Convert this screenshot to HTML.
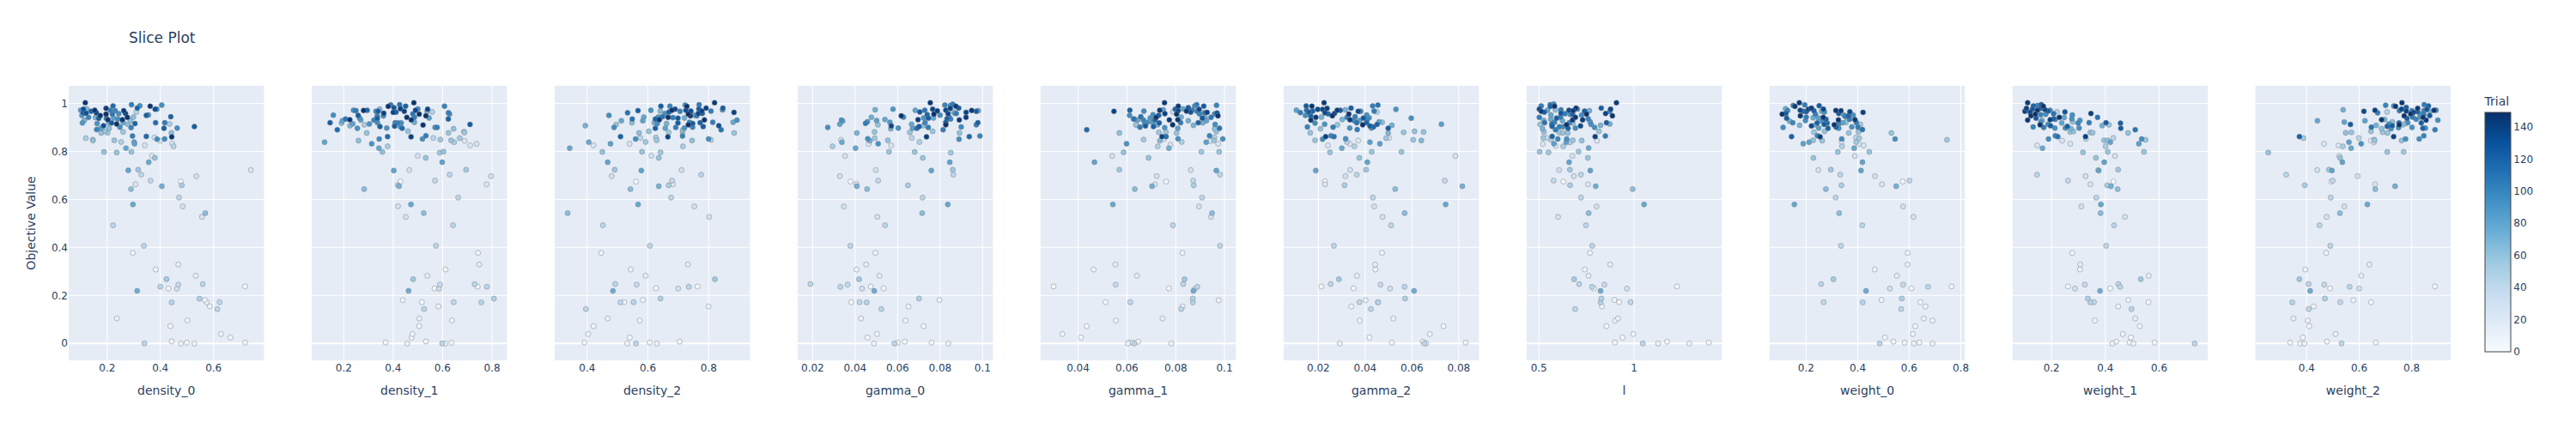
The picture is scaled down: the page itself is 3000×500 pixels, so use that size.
<!DOCTYPE html><html><head><meta charset="utf-8"><title>Slice Plot</title><style>html,body{margin:0;padding:0;background:#fff;width:3000px;height:500px;overflow:hidden}svg{display:block}text{font-family:"DejaVu Sans","Liberation Sans",sans-serif;fill:#2a3f5f}.t{font-size:12px}.a{font-size:14px}.g{stroke:#fff;stroke-width:1}.z{stroke:#fff;stroke-width:2}circle{stroke:#808080;stroke-width:0.5}</style></head><body>
<svg width="3000" height="500" viewBox="0 0 3000 500">
<rect width="3000" height="500" fill="#fff"/>
<text x="150" y="50" style="font-size:17px">Slice Plot</text>
<g>
<rect x="80.0" y="100" width="227.4" height="320" fill="#e5ecf6"/>
<line class="g" x1="124.9" x2="124.9" y1="100" y2="420"/>
<line class="g" x1="186.7" x2="186.7" y1="100" y2="420"/>
<line class="g" x1="248.7" x2="248.7" y1="100" y2="420"/>
<line class="z" x1="80.0" x2="307.4" y1="400.2" y2="400.2"/>
<line class="g" x1="80.0" x2="307.4" y1="344.3" y2="344.3"/>
<line class="g" x1="80.0" x2="307.4" y1="288.3" y2="288.3"/>
<line class="g" x1="80.0" x2="307.4" y1="232.4" y2="232.4"/>
<line class="g" x1="80.0" x2="307.4" y1="176.4" y2="176.4"/>
<line class="g" x1="80.0" x2="307.4" y1="120.5" y2="120.5"/>
<clipPath id="c0"><rect x="80.0" y="100" width="227.4" height="320"/></clipPath>
<g clip-path="url(#c0)">
<circle cx="210.5" cy="211.5" r="3" fill="rgb(240,247,253)"/>
<circle cx="196.2" cy="336.2" r="3" fill="rgb(240,247,253)"/>
<circle cx="285.5" cy="333.8" r="3" fill="rgb(240,247,253)"/>
<circle cx="240.7" cy="352.2" r="3" fill="rgb(240,247,253)"/>
<circle cx="198.4" cy="380.0" r="3" fill="rgb(240,247,253)"/>
<circle cx="268.3" cy="393.3" r="3" fill="rgb(240,247,253)"/>
<circle cx="200.0" cy="397.9" r="3" fill="rgb(240,247,253)"/>
<circle cx="217.6" cy="399.4" r="3" fill="rgb(240,247,253)"/>
<circle cx="285.5" cy="399.4" r="3" fill="rgb(240,247,253)"/>
<circle cx="154.6" cy="294.7" r="3" fill="rgb(236,244,252)"/>
<circle cx="181.4" cy="314.1" r="3" fill="rgb(236,244,252)"/>
<circle cx="238.5" cy="349.6" r="3" fill="rgb(236,244,252)"/>
<circle cx="244.3" cy="357.1" r="3" fill="rgb(236,244,252)"/>
<circle cx="218.2" cy="373.5" r="3" fill="rgb(236,244,252)"/>
<circle cx="257.3" cy="389.3" r="3" fill="rgb(236,244,252)"/>
<circle cx="210.6" cy="400.3" r="3" fill="rgb(236,244,252)"/>
<circle cx="226.4" cy="400.3" r="3" fill="rgb(236,244,252)"/>
<circle cx="136.1" cy="371.1" r="3" fill="rgb(231,241,250)"/>
<circle cx="207.7" cy="308.3" r="3" fill="rgb(227,238,249)"/>
<circle cx="227.9" cy="321.4" r="3" fill="rgb(227,238,249)"/>
<circle cx="177.0" cy="181.6" r="3" fill="rgb(220,234,246)"/>
<circle cx="186.8" cy="164.1" r="3" fill="rgb(214,230,244)"/>
<circle cx="200.5" cy="167.3" r="3" fill="rgb(214,230,244)"/>
<circle cx="157.8" cy="214.8" r="3" fill="rgb(214,230,244)"/>
<circle cx="292.2" cy="198.2" r="3" fill="rgb(214,230,244)"/>
<circle cx="168.6" cy="169.4" r="3" fill="rgb(210,227,243)"/>
<circle cx="235.2" cy="252.8" r="3" fill="rgb(210,227,243)"/>
<circle cx="179.8" cy="160.3" r="3" fill="rgb(207,225,242)"/>
<circle cx="228.6" cy="205.3" r="3" fill="rgb(207,225,242)"/>
<circle cx="212.8" cy="240.6" r="3" fill="rgb(207,225,242)"/>
<circle cx="206.1" cy="336.4" r="3" fill="rgb(207,225,242)"/>
<circle cx="207.7" cy="331.7" r="3" fill="rgb(195,218,238)"/>
<circle cx="175.3" cy="210.5" r="3" fill="rgb(191,216,237)"/>
<circle cx="255.7" cy="352.2" r="3" fill="rgb(191,216,237)"/>
<circle cx="164.5" cy="203.6" r="3" fill="rgb(186,214,235)"/>
<circle cx="208.5" cy="230.3" r="3" fill="rgb(186,214,235)"/>
<circle cx="131.7" cy="262.6" r="3" fill="rgb(186,214,235)"/>
<circle cx="167.5" cy="286.5" r="3" fill="rgb(186,214,235)"/>
<circle cx="186.7" cy="334.2" r="3" fill="rgb(186,214,235)"/>
<circle cx="236.1" cy="331.2" r="3" fill="rgb(186,214,235)"/>
<circle cx="253.1" cy="360.3" r="3" fill="rgb(186,214,235)"/>
<circle cx="168.2" cy="400.3" r="3" fill="rgb(186,214,235)"/>
<circle cx="202.1" cy="170.6" r="3" fill="rgb(180,212,233)"/>
<circle cx="199.9" cy="352.4" r="3" fill="rgb(180,212,233)"/>
<circle cx="158.8" cy="130.7" r="3" fill="rgb(177,210,232)"/>
<circle cx="141.1" cy="165.5" r="3" fill="rgb(174,209,230)"/>
<circle cx="232.4" cy="348.1" r="3" fill="rgb(174,209,230)"/>
<circle cx="197.5" cy="144.5" r="3" fill="rgb(168,206,229)"/>
<circle cx="99.9" cy="161.0" r="3" fill="rgb(168,206,229)"/>
<circle cx="211.7" cy="215.9" r="3" fill="rgb(168,206,229)"/>
<circle cx="108.0" cy="162.7" r="3" fill="rgb(160,203,226)"/>
<circle cx="193.9" cy="325.4" r="3" fill="rgb(160,203,226)"/>
<circle cx="125.4" cy="154.8" r="3" fill="rgb(156,201,225)"/>
<circle cx="143.4" cy="153.8" r="3" fill="rgb(156,201,225)"/>
<circle cx="160.9" cy="197.8" r="3" fill="rgb(156,201,225)"/>
<circle cx="122.0" cy="152.9" r="3" fill="rgb(149,197,223)"/>
<circle cx="133.1" cy="163.6" r="3" fill="rgb(149,197,223)"/>
<circle cx="135.9" cy="177.8" r="3" fill="rgb(149,197,223)"/>
<circle cx="153.0" cy="176.9" r="3" fill="rgb(149,197,223)"/>
<circle cx="180.3" cy="184.0" r="3" fill="rgb(149,197,223)"/>
<circle cx="117.8" cy="155.0" r="3" fill="rgb(144,194,222)"/>
<circle cx="121.2" cy="177.1" r="3" fill="rgb(144,194,222)"/>
<circle cx="155.3" cy="136.5" r="3" fill="rgb(140,192,221)"/>
<circle cx="149.0" cy="144.9" r="3" fill="rgb(140,192,221)"/>
<circle cx="127.1" cy="149.6" r="3" fill="rgb(140,192,221)"/>
<circle cx="108.4" cy="163.8" r="3" fill="rgb(140,192,221)"/>
<circle cx="199.6" cy="154.8" r="3" fill="rgb(140,192,221)"/>
<circle cx="151.8" cy="140.7" r="3" fill="rgb(136,190,220)"/>
<circle cx="152.5" cy="220.4" r="3" fill="rgb(136,190,220)"/>
<circle cx="239.1" cy="248.4" r="3" fill="rgb(136,190,220)"/>
<circle cx="101.0" cy="126.9" r="3" fill="rgb(127,185,218)"/>
<circle cx="126.6" cy="143.5" r="3" fill="rgb(127,185,218)"/>
<circle cx="98.2" cy="140.3" r="3" fill="rgb(111,176,215)"/>
<circle cx="111.2" cy="137.0" r="3" fill="rgb(111,176,215)"/>
<circle cx="188.5" cy="217.1" r="3" fill="rgb(111,176,215)"/>
<circle cx="159.8" cy="339.0" r="3" fill="rgb(106,173,214)"/>
<circle cx="143.4" cy="143.1" r="3" fill="rgb(99,169,211)"/>
<circle cx="146.7" cy="172.7" r="3" fill="rgb(99,169,211)"/>
<circle cx="173.2" cy="189.1" r="3" fill="rgb(99,169,211)"/>
<circle cx="154.8" cy="238.3" r="3" fill="rgb(99,169,211)"/>
<circle cx="156.2" cy="165.5" r="3" fill="rgb(93,164,208)"/>
<circle cx="149.4" cy="198.6" r="3" fill="rgb(93,164,208)"/>
<circle cx="132.2" cy="137.5" r="3" fill="rgb(88,161,207)"/>
<circle cx="117.3" cy="149.6" r="3" fill="rgb(88,161,207)"/>
<circle cx="156.7" cy="167.6" r="3" fill="rgb(88,161,207)"/>
<circle cx="94.0" cy="128.6" r="3" fill="rgb(76,153,202)"/>
<circle cx="95.4" cy="134.4" r="3" fill="rgb(76,153,202)"/>
<circle cx="96.0" cy="143.3" r="3" fill="rgb(76,153,202)"/>
<circle cx="113.1" cy="144.0" r="3" fill="rgb(69,148,199)"/>
<circle cx="138.3" cy="132.6" r="3" fill="rgb(64,144,197)"/>
<circle cx="137.1" cy="138.7" r="3" fill="rgb(64,144,197)"/>
<circle cx="162.8" cy="123.3" r="3" fill="rgb(64,144,197)"/>
<circle cx="182.6" cy="127.2" r="3" fill="rgb(64,144,197)"/>
<circle cx="188.4" cy="122.5" r="3" fill="rgb(64,144,197)"/>
<circle cx="172.8" cy="134.0" r="3" fill="rgb(64,144,197)"/>
<circle cx="139.7" cy="148.2" r="3" fill="rgb(64,144,197)"/>
<circle cx="183.0" cy="162.2" r="3" fill="rgb(64,144,197)"/>
<circle cx="206.3" cy="149.3" r="3" fill="rgb(64,144,197)"/>
<circle cx="191.7" cy="161.9" r="3" fill="rgb(60,140,195)"/>
<circle cx="103.1" cy="136.8" r="3" fill="rgb(53,133,191)"/>
<circle cx="134.1" cy="129.1" r="3" fill="rgb(53,133,191)"/>
<circle cx="112.6" cy="151.0" r="3" fill="rgb(53,133,191)"/>
<circle cx="152.7" cy="148.7" r="3" fill="rgb(53,133,191)"/>
<circle cx="128.5" cy="128.6" r="3" fill="rgb(46,126,188)"/>
<circle cx="153.2" cy="122.1" r="3" fill="rgb(46,126,188)"/>
<circle cx="191.9" cy="143.1" r="3" fill="rgb(46,126,188)"/>
<circle cx="154.3" cy="158.5" r="3" fill="rgb(46,126,188)"/>
<circle cx="123.8" cy="137.9" r="3" fill="rgb(41,121,185)"/>
<circle cx="130.8" cy="133.0" r="3" fill="rgb(41,121,185)"/>
<circle cx="131.6" cy="123.5" r="3" fill="rgb(29,107,177)"/>
<circle cx="181.2" cy="143.1" r="3" fill="rgb(29,107,177)"/>
<circle cx="170.4" cy="158.9" r="3" fill="rgb(29,107,177)"/>
<circle cx="106.1" cy="129.7" r="3" fill="rgb(22,99,170)"/>
<circle cx="159.9" cy="126.0" r="3" fill="rgb(22,99,170)"/>
<circle cx="157.2" cy="144.0" r="3" fill="rgb(22,99,170)"/>
<circle cx="198.9" cy="136.1" r="3" fill="rgb(22,99,170)"/>
<circle cx="191.0" cy="149.6" r="3" fill="rgb(22,99,170)"/>
<circle cx="96.8" cy="131.4" r="3" fill="rgb(18,94,166)"/>
<circle cx="115.0" cy="137.9" r="3" fill="rgb(18,94,166)"/>
<circle cx="170.4" cy="134.5" r="3" fill="rgb(18,94,166)"/>
<circle cx="226.4" cy="147.6" r="3" fill="rgb(18,94,166)"/>
<circle cx="129.9" cy="143.3" r="3" fill="rgb(14,88,162)"/>
<circle cx="97.1" cy="127.2" r="3" fill="rgb(8,80,154)"/>
<circle cx="100.3" cy="131.9" r="3" fill="rgb(8,80,154)"/>
<circle cx="180.7" cy="127.2" r="3" fill="rgb(8,80,154)"/>
<circle cx="120.6" cy="146.6" r="3" fill="rgb(8,80,154)"/>
<circle cx="112.2" cy="131.4" r="3" fill="rgb(8,67,136)"/>
<circle cx="146.2" cy="132.3" r="3" fill="rgb(8,67,136)"/>
<circle cx="123.5" cy="126.3" r="3" fill="rgb(8,59,123)"/>
<circle cx="144.1" cy="129.1" r="3" fill="rgb(8,59,123)"/>
<circle cx="142.5" cy="139.6" r="3" fill="rgb(8,55,118)"/>
<circle cx="200.0" cy="159.6" r="3" fill="rgb(8,55,118)"/>
<circle cx="99.3" cy="119.8" r="3" fill="rgb(8,53,115)"/>
<circle cx="110.3" cy="128.6" r="3" fill="rgb(8,53,115)"/>
<circle cx="125.7" cy="139.6" r="3" fill="rgb(8,53,115)"/>
<circle cx="148.3" cy="136.8" r="3" fill="rgb(8,53,115)"/>
<circle cx="174.9" cy="123.8" r="3" fill="rgb(8,52,113)"/>
<circle cx="116.8" cy="134.7" r="3" fill="rgb(8,50,111)"/>
<circle cx="123.5" cy="133.0" r="3" fill="rgb(8,49,108)"/>
<circle cx="135.9" cy="144.5" r="3" fill="rgb(8,49,108)"/>
</g>
<text class="t" text-anchor="middle" x="124.9" y="432.6">0.2</text>
<text class="t" text-anchor="middle" x="186.7" y="432.6">0.4</text>
<text class="t" text-anchor="middle" x="248.7" y="432.6">0.6</text>
<text class="a" text-anchor="middle" x="193.7" y="460">density_0</text>
</g>
<g>
<rect x="363.0" y="100" width="227.4" height="320" fill="#e5ecf6"/>
<line class="g" x1="400.4" x2="400.4" y1="100" y2="420"/>
<line class="g" x1="457.9" x2="457.9" y1="100" y2="420"/>
<line class="g" x1="515.4" x2="515.4" y1="100" y2="420"/>
<line class="g" x1="573.0" x2="573.0" y1="100" y2="420"/>
<line class="z" x1="363.0" x2="590.4" y1="400.2" y2="400.2"/>
<line class="g" x1="363.0" x2="590.4" y1="344.3" y2="344.3"/>
<line class="g" x1="363.0" x2="590.4" y1="288.3" y2="288.3"/>
<line class="g" x1="363.0" x2="590.4" y1="232.4" y2="232.4"/>
<line class="g" x1="363.0" x2="590.4" y1="176.4" y2="176.4"/>
<line class="g" x1="363.0" x2="590.4" y1="120.5" y2="120.5"/>
<clipPath id="c1"><rect x="363.0" y="100" width="227.4" height="320"/></clipPath>
<g clip-path="url(#c1)">
<circle cx="466.3" cy="211.6" r="3" fill="rgb(240,247,253)"/>
<circle cx="506.0" cy="336.2" r="3" fill="rgb(240,247,253)"/>
<circle cx="556.2" cy="334.0" r="3" fill="rgb(240,247,253)"/>
<circle cx="491.3" cy="352.2" r="3" fill="rgb(240,247,253)"/>
<circle cx="488.1" cy="380.0" r="3" fill="rgb(240,247,253)"/>
<circle cx="479.2" cy="393.3" r="3" fill="rgb(240,247,253)"/>
<circle cx="449.0" cy="399.2" r="3" fill="rgb(240,247,253)"/>
<circle cx="496.0" cy="398.0" r="3" fill="rgb(240,247,253)"/>
<circle cx="525.8" cy="399.6" r="3" fill="rgb(240,247,253)"/>
<circle cx="556.7" cy="294.7" r="3" fill="rgb(236,244,252)"/>
<circle cx="518.9" cy="314.1" r="3" fill="rgb(236,244,252)"/>
<circle cx="469.1" cy="349.8" r="3" fill="rgb(236,244,252)"/>
<circle cx="510.7" cy="357.1" r="3" fill="rgb(236,244,252)"/>
<circle cx="526.2" cy="373.5" r="3" fill="rgb(236,244,252)"/>
<circle cx="480.3" cy="389.3" r="3" fill="rgb(236,244,252)"/>
<circle cx="474.2" cy="400.3" r="3" fill="rgb(236,244,252)"/>
<circle cx="518.5" cy="400.3" r="3" fill="rgb(236,244,252)"/>
<circle cx="488.3" cy="371.1" r="3" fill="rgb(231,241,250)"/>
<circle cx="558.0" cy="308.3" r="3" fill="rgb(227,238,249)"/>
<circle cx="497.8" cy="321.4" r="3" fill="rgb(227,238,249)"/>
<circle cx="541.2" cy="164.1" r="3" fill="rgb(214,230,244)"/>
<circle cx="547.5" cy="169.5" r="3" fill="rgb(214,230,244)"/>
<circle cx="566.6" cy="214.8" r="3" fill="rgb(214,230,244)"/>
<circle cx="555.0" cy="167.6" r="3" fill="rgb(210,227,243)"/>
<circle cx="486.6" cy="181.6" r="3" fill="rgb(210,227,243)"/>
<circle cx="472.6" cy="252.8" r="3" fill="rgb(210,227,243)"/>
<circle cx="476.6" cy="198.2" r="3" fill="rgb(207,225,242)"/>
<circle cx="571.8" cy="205.3" r="3" fill="rgb(207,225,242)"/>
<circle cx="463.5" cy="240.4" r="3" fill="rgb(207,225,242)"/>
<circle cx="511.4" cy="336.4" r="3" fill="rgb(207,225,242)"/>
<circle cx="512.4" cy="331.7" r="3" fill="rgb(195,218,238)"/>
<circle cx="506.6" cy="210.5" r="3" fill="rgb(191,216,237)"/>
<circle cx="528.4" cy="352.2" r="3" fill="rgb(191,216,237)"/>
<circle cx="504.6" cy="160.8" r="3" fill="rgb(186,214,235)"/>
<circle cx="523.7" cy="203.6" r="3" fill="rgb(186,214,235)"/>
<circle cx="533.6" cy="230.3" r="3" fill="rgb(186,214,235)"/>
<circle cx="527.6" cy="262.6" r="3" fill="rgb(186,214,235)"/>
<circle cx="507.7" cy="286.5" r="3" fill="rgb(186,214,235)"/>
<circle cx="552.8" cy="331.2" r="3" fill="rgb(186,214,235)"/>
<circle cx="567.0" cy="334.2" r="3" fill="rgb(186,214,235)"/>
<circle cx="493.9" cy="360.3" r="3" fill="rgb(186,214,235)"/>
<circle cx="515.0" cy="400.3" r="3" fill="rgb(186,214,235)"/>
<circle cx="560.5" cy="352.4" r="3" fill="rgb(180,212,233)"/>
<circle cx="503.4" cy="130.5" r="3" fill="rgb(177,210,232)"/>
<circle cx="575.2" cy="348.1" r="3" fill="rgb(174,209,230)"/>
<circle cx="424.3" cy="145.4" r="3" fill="rgb(168,206,229)"/>
<circle cx="451.4" cy="170.6" r="3" fill="rgb(168,206,229)"/>
<circle cx="528.9" cy="165.7" r="3" fill="rgb(168,206,229)"/>
<circle cx="463.5" cy="215.7" r="3" fill="rgb(168,206,229)"/>
<circle cx="540.3" cy="153.4" r="3" fill="rgb(160,203,226)"/>
<circle cx="535.4" cy="161.0" r="3" fill="rgb(160,203,226)"/>
<circle cx="542.8" cy="197.8" r="3" fill="rgb(160,203,226)"/>
<circle cx="481.2" cy="325.4" r="3" fill="rgb(160,203,226)"/>
<circle cx="512.8" cy="162.7" r="3" fill="rgb(156,201,225)"/>
<circle cx="540.8" cy="154.5" r="3" fill="rgb(156,201,225)"/>
<circle cx="512.1" cy="178.1" r="3" fill="rgb(156,201,225)"/>
<circle cx="475.2" cy="152.9" r="3" fill="rgb(149,197,223)"/>
<circle cx="522.3" cy="154.8" r="3" fill="rgb(149,197,223)"/>
<circle cx="525.3" cy="163.6" r="3" fill="rgb(149,197,223)"/>
<circle cx="516.5" cy="176.7" r="3" fill="rgb(149,197,223)"/>
<circle cx="495.8" cy="184.0" r="3" fill="rgb(149,197,223)"/>
<circle cx="427.1" cy="154.9" r="3" fill="rgb(144,194,222)"/>
<circle cx="445.3" cy="177.1" r="3" fill="rgb(144,194,222)"/>
<circle cx="417.5" cy="163.9" r="3" fill="rgb(140,192,221)"/>
<circle cx="528.3" cy="150.1" r="3" fill="rgb(140,192,221)"/>
<circle cx="424.1" cy="220.4" r="3" fill="rgb(136,190,220)"/>
<circle cx="493.5" cy="248.4" r="3" fill="rgb(136,190,220)"/>
<circle cx="397.8" cy="143.5" r="3" fill="rgb(127,185,218)"/>
<circle cx="442.1" cy="127.2" r="3" fill="rgb(127,185,218)"/>
<circle cx="407.6" cy="146.6" r="3" fill="rgb(127,185,218)"/>
<circle cx="497.4" cy="130.0" r="3" fill="rgb(117,180,216)"/>
<circle cx="464.8" cy="217.1" r="3" fill="rgb(117,180,216)"/>
<circle cx="482.6" cy="142.6" r="3" fill="rgb(106,173,214)"/>
<circle cx="475.8" cy="339.0" r="3" fill="rgb(106,173,214)"/>
<circle cx="441.3" cy="172.7" r="3" fill="rgb(99,169,211)"/>
<circle cx="478.6" cy="238.3" r="3" fill="rgb(99,169,211)"/>
<circle cx="398.7" cy="140.7" r="3" fill="rgb(93,164,208)"/>
<circle cx="499.7" cy="137.5" r="3" fill="rgb(93,164,208)"/>
<circle cx="378.0" cy="165.7" r="3" fill="rgb(93,164,208)"/>
<circle cx="515.0" cy="189.1" r="3" fill="rgb(93,164,208)"/>
<circle cx="458.6" cy="198.8" r="3" fill="rgb(93,164,208)"/>
<circle cx="420.1" cy="139.8" r="3" fill="rgb(88,161,207)"/>
<circle cx="410.8" cy="144.3" r="3" fill="rgb(88,161,207)"/>
<circle cx="418.7" cy="137.5" r="3" fill="rgb(69,148,199)"/>
<circle cx="430.1" cy="144.5" r="3" fill="rgb(69,148,199)"/>
<circle cx="416.2" cy="149.6" r="3" fill="rgb(69,148,199)"/>
<circle cx="450.4" cy="149.3" r="3" fill="rgb(69,148,199)"/>
<circle cx="432.9" cy="167.6" r="3" fill="rgb(69,148,199)"/>
<circle cx="388.2" cy="134.2" r="3" fill="rgb(64,144,197)"/>
<circle cx="411.7" cy="128.4" r="3" fill="rgb(64,144,197)"/>
<circle cx="446.5" cy="135.1" r="3" fill="rgb(64,144,197)"/>
<circle cx="439.7" cy="143.1" r="3" fill="rgb(64,144,197)"/>
<circle cx="467.2" cy="143.3" r="3" fill="rgb(64,144,197)"/>
<circle cx="486.7" cy="126.9" r="3" fill="rgb(64,144,197)"/>
<circle cx="523.5" cy="133.1" r="3" fill="rgb(64,144,197)"/>
<circle cx="466.3" cy="147.8" r="3" fill="rgb(64,144,197)"/>
<circle cx="506.7" cy="148.5" r="3" fill="rgb(64,144,197)"/>
<circle cx="492.0" cy="162.0" r="3" fill="rgb(64,144,197)"/>
<circle cx="441.6" cy="162.0" r="3" fill="rgb(60,140,195)"/>
<circle cx="437.9" cy="129.7" r="3" fill="rgb(53,133,191)"/>
<circle cx="435.5" cy="140.0" r="3" fill="rgb(53,133,191)"/>
<circle cx="460.2" cy="143.1" r="3" fill="rgb(53,133,191)"/>
<circle cx="517.7" cy="123.8" r="3" fill="rgb(53,133,191)"/>
<circle cx="439.3" cy="135.3" r="3" fill="rgb(46,126,188)"/>
<circle cx="455.1" cy="122.3" r="3" fill="rgb(46,126,188)"/>
<circle cx="463.5" cy="143.3" r="3" fill="rgb(46,126,188)"/>
<circle cx="482.6" cy="136.8" r="3" fill="rgb(46,126,188)"/>
<circle cx="522.3" cy="131.4" r="3" fill="rgb(46,126,188)"/>
<circle cx="509.0" cy="148.5" r="3" fill="rgb(46,126,188)"/>
<circle cx="496.0" cy="158.2" r="3" fill="rgb(46,126,188)"/>
<circle cx="414.5" cy="129.1" r="3" fill="rgb(41,121,185)"/>
<circle cx="402.4" cy="138.7" r="3" fill="rgb(41,121,185)"/>
<circle cx="465.4" cy="122.1" r="3" fill="rgb(41,121,185)"/>
<circle cx="480.8" cy="132.8" r="3" fill="rgb(41,121,185)"/>
<circle cx="427.6" cy="128.6" r="3" fill="rgb(29,107,177)"/>
<circle cx="392.8" cy="151.2" r="3" fill="rgb(29,107,177)"/>
<circle cx="468.4" cy="149.6" r="3" fill="rgb(29,107,177)"/>
<circle cx="451.4" cy="159.2" r="3" fill="rgb(29,107,177)"/>
<circle cx="461.2" cy="130.7" r="3" fill="rgb(22,99,170)"/>
<circle cx="472.4" cy="123.8" r="3" fill="rgb(22,99,170)"/>
<circle cx="522.1" cy="138.7" r="3" fill="rgb(22,99,170)"/>
<circle cx="384.4" cy="143.1" r="3" fill="rgb(18,94,166)"/>
<circle cx="417.1" cy="134.4" r="3" fill="rgb(18,94,166)"/>
<circle cx="440.4" cy="129.7" r="3" fill="rgb(18,94,166)"/>
<circle cx="439.4" cy="137.9" r="3" fill="rgb(18,94,166)"/>
<circle cx="442.5" cy="147.6" r="3" fill="rgb(18,94,166)"/>
<circle cx="459.6" cy="147.0" r="3" fill="rgb(18,94,166)"/>
<circle cx="547.4" cy="145.1" r="3" fill="rgb(18,94,166)"/>
<circle cx="458.8" cy="125.6" r="3" fill="rgb(14,88,162)"/>
<circle cx="457.9" cy="130.9" r="3" fill="rgb(8,72,143)"/>
<circle cx="483.9" cy="128.6" r="3" fill="rgb(8,72,143)"/>
<circle cx="466.3" cy="126.7" r="3" fill="rgb(8,67,136)"/>
<circle cx="470.8" cy="129.7" r="3" fill="rgb(8,67,136)"/>
<circle cx="498.0" cy="127.2" r="3" fill="rgb(8,67,136)"/>
<circle cx="478.7" cy="159.4" r="3" fill="rgb(8,67,136)"/>
<circle cx="446.9" cy="131.9" r="3" fill="rgb(8,64,131)"/>
<circle cx="478.9" cy="139.8" r="3" fill="rgb(8,55,118)"/>
<circle cx="407.4" cy="139.6" r="3" fill="rgb(8,53,115)"/>
<circle cx="482.0" cy="119.8" r="3" fill="rgb(8,53,115)"/>
<circle cx="423.4" cy="128.8" r="3" fill="rgb(8,52,113)"/>
<circle cx="452.1" cy="123.9" r="3" fill="rgb(8,52,113)"/>
<circle cx="473.8" cy="136.8" r="3" fill="rgb(8,50,111)"/>
<circle cx="488.2" cy="133.1" r="3" fill="rgb(8,50,110)"/>
<circle cx="496.0" cy="135.0" r="3" fill="rgb(8,50,110)"/>
<circle cx="492.7" cy="145.7" r="3" fill="rgb(8,50,110)"/>
</g>
<text class="t" text-anchor="middle" x="400.4" y="432.6">0.2</text>
<text class="t" text-anchor="middle" x="457.9" y="432.6">0.4</text>
<text class="t" text-anchor="middle" x="515.4" y="432.6">0.6</text>
<text class="t" text-anchor="middle" x="573.0" y="432.6">0.8</text>
<text class="a" text-anchor="middle" x="476.7" y="460">density_1</text>
</g>
<g>
<rect x="645.9" y="100" width="227.4" height="320" fill="#e5ecf6"/>
<line class="g" x1="683.8" x2="683.8" y1="100" y2="420"/>
<line class="g" x1="754.5" x2="754.5" y1="100" y2="420"/>
<line class="g" x1="825.3" x2="825.3" y1="100" y2="420"/>
<line class="z" x1="645.9" x2="873.3" y1="400.2" y2="400.2"/>
<line class="g" x1="645.9" x2="873.3" y1="344.3" y2="344.3"/>
<line class="g" x1="645.9" x2="873.3" y1="288.3" y2="288.3"/>
<line class="g" x1="645.9" x2="873.3" y1="232.4" y2="232.4"/>
<line class="g" x1="645.9" x2="873.3" y1="176.4" y2="176.4"/>
<line class="g" x1="645.9" x2="873.3" y1="120.5" y2="120.5"/>
<clipPath id="c2"><rect x="645.9" y="100" width="227.4" height="320"/></clipPath>
<g clip-path="url(#c2)">
<circle cx="740.7" cy="211.6" r="3" fill="rgb(240,247,253)"/>
<circle cx="812.3" cy="333.9" r="3" fill="rgb(240,247,253)"/>
<circle cx="764.0" cy="336.1" r="3" fill="rgb(240,247,253)"/>
<circle cx="726.9" cy="352.2" r="3" fill="rgb(240,247,253)"/>
<circle cx="691.3" cy="380.1" r="3" fill="rgb(240,247,253)"/>
<circle cx="733.4" cy="393.4" r="3" fill="rgb(240,247,253)"/>
<circle cx="680.8" cy="399.2" r="3" fill="rgb(240,247,253)"/>
<circle cx="756.6" cy="399.3" r="3" fill="rgb(240,247,253)"/>
<circle cx="791.4" cy="398.2" r="3" fill="rgb(240,247,253)"/>
<circle cx="700.2" cy="294.7" r="3" fill="rgb(236,244,252)"/>
<circle cx="734.5" cy="314.1" r="3" fill="rgb(236,244,252)"/>
<circle cx="748.7" cy="349.7" r="3" fill="rgb(236,244,252)"/>
<circle cx="825.2" cy="357.2" r="3" fill="rgb(236,244,252)"/>
<circle cx="745.0" cy="373.6" r="3" fill="rgb(236,244,252)"/>
<circle cx="684.9" cy="389.3" r="3" fill="rgb(236,244,252)"/>
<circle cx="730.6" cy="400.3" r="3" fill="rgb(236,244,252)"/>
<circle cx="765.1" cy="400.3" r="3" fill="rgb(236,244,252)"/>
<circle cx="707.7" cy="371.2" r="3" fill="rgb(231,241,250)"/>
<circle cx="801.1" cy="308.3" r="3" fill="rgb(227,238,249)"/>
<circle cx="751.9" cy="321.4" r="3" fill="rgb(227,238,249)"/>
<circle cx="691.1" cy="169.4" r="3" fill="rgb(214,230,244)"/>
<circle cx="783.6" cy="214.8" r="3" fill="rgb(214,230,244)"/>
<circle cx="733.2" cy="167.6" r="3" fill="rgb(210,227,243)"/>
<circle cx="758.6" cy="181.6" r="3" fill="rgb(210,227,243)"/>
<circle cx="825.9" cy="252.8" r="3" fill="rgb(210,227,243)"/>
<circle cx="793.8" cy="198.2" r="3" fill="rgb(207,225,242)"/>
<circle cx="712.4" cy="205.3" r="3" fill="rgb(207,225,242)"/>
<circle cx="808.6" cy="240.6" r="3" fill="rgb(207,225,242)"/>
<circle cx="789.9" cy="336.3" r="3" fill="rgb(207,225,242)"/>
<circle cx="741.4" cy="331.7" r="3" fill="rgb(195,218,238)"/>
<circle cx="782.7" cy="210.5" r="3" fill="rgb(191,216,237)"/>
<circle cx="722.6" cy="352.4" r="3" fill="rgb(191,216,237)"/>
<circle cx="745.8" cy="160.8" r="3" fill="rgb(186,214,235)"/>
<circle cx="816.6" cy="203.6" r="3" fill="rgb(186,214,235)"/>
<circle cx="781.5" cy="230.3" r="3" fill="rgb(186,214,235)"/>
<circle cx="702.1" cy="262.6" r="3" fill="rgb(186,214,235)"/>
<circle cx="756.9" cy="286.5" r="3" fill="rgb(186,214,235)"/>
<circle cx="716.5" cy="331.1" r="3" fill="rgb(186,214,235)"/>
<circle cx="802.2" cy="334.3" r="3" fill="rgb(186,214,235)"/>
<circle cx="682.3" cy="360.2" r="3" fill="rgb(186,214,235)"/>
<circle cx="740.7" cy="400.3" r="3" fill="rgb(186,214,235)"/>
<circle cx="737.9" cy="352.2" r="3" fill="rgb(180,212,233)"/>
<circle cx="828.0" cy="163.0" r="3" fill="rgb(177,210,232)"/>
<circle cx="769.2" cy="347.9" r="3" fill="rgb(174,209,230)"/>
<circle cx="763.9" cy="160.3" r="3" fill="rgb(168,206,229)"/>
<circle cx="795.3" cy="170.6" r="3" fill="rgb(168,206,229)"/>
<circle cx="778.7" cy="215.9" r="3" fill="rgb(168,206,229)"/>
<circle cx="751.9" cy="165.5" r="3" fill="rgb(160,203,226)"/>
<circle cx="778.8" cy="154.3" r="3" fill="rgb(160,203,226)"/>
<circle cx="832.6" cy="325.4" r="3" fill="rgb(160,203,226)"/>
<circle cx="764.8" cy="163.6" r="3" fill="rgb(156,201,225)"/>
<circle cx="794.9" cy="153.8" r="3" fill="rgb(156,201,225)"/>
<circle cx="769.3" cy="177.6" r="3" fill="rgb(156,201,225)"/>
<circle cx="715.9" cy="197.8" r="3" fill="rgb(156,201,225)"/>
<circle cx="717.6" cy="145.1" r="3" fill="rgb(149,197,223)"/>
<circle cx="755.6" cy="153.1" r="3" fill="rgb(149,197,223)"/>
<circle cx="747.7" cy="176.9" r="3" fill="rgb(149,197,223)"/>
<circle cx="855.0" cy="154.9" r="3" fill="rgb(149,197,223)"/>
<circle cx="767.2" cy="184.0" r="3" fill="rgb(149,197,223)"/>
<circle cx="701.5" cy="177.1" r="3" fill="rgb(144,194,222)"/>
<circle cx="806.0" cy="163.8" r="3" fill="rgb(144,194,222)"/>
<circle cx="736.0" cy="143.1" r="3" fill="rgb(140,192,221)"/>
<circle cx="744.2" cy="154.9" r="3" fill="rgb(140,192,221)"/>
<circle cx="795.1" cy="151.5" r="3" fill="rgb(140,192,221)"/>
<circle cx="734.2" cy="220.4" r="3" fill="rgb(136,190,220)"/>
<circle cx="661.1" cy="248.4" r="3" fill="rgb(136,190,220)"/>
<circle cx="769.0" cy="129.4" r="3" fill="rgb(127,185,218)"/>
<circle cx="776.3" cy="144.0" r="3" fill="rgb(117,180,216)"/>
<circle cx="681.7" cy="146.4" r="3" fill="rgb(117,180,216)"/>
<circle cx="762.0" cy="143.1" r="3" fill="rgb(111,176,215)"/>
<circle cx="797.1" cy="137.5" r="3" fill="rgb(111,176,215)"/>
<circle cx="767.2" cy="217.1" r="3" fill="rgb(111,176,215)"/>
<circle cx="713.8" cy="339.1" r="3" fill="rgb(106,173,214)"/>
<circle cx="723.7" cy="140.7" r="3" fill="rgb(99,169,211)"/>
<circle cx="749.8" cy="136.5" r="3" fill="rgb(99,169,211)"/>
<circle cx="853.8" cy="142.4" r="3" fill="rgb(99,169,211)"/>
<circle cx="685.7" cy="165.7" r="3" fill="rgb(99,169,211)"/>
<circle cx="663.5" cy="172.7" r="3" fill="rgb(99,169,211)"/>
<circle cx="743.1" cy="238.3" r="3" fill="rgb(99,169,211)"/>
<circle cx="774.8" cy="149.4" r="3" fill="rgb(93,164,208)"/>
<circle cx="707.7" cy="189.1" r="3" fill="rgb(93,164,208)"/>
<circle cx="746.9" cy="198.8" r="3" fill="rgb(93,164,208)"/>
<circle cx="748.6" cy="140.7" r="3" fill="rgb(88,161,207)"/>
<circle cx="808.6" cy="134.2" r="3" fill="rgb(88,161,207)"/>
<circle cx="711.0" cy="167.6" r="3" fill="rgb(88,161,207)"/>
<circle cx="758.0" cy="128.6" r="3" fill="rgb(69,148,199)"/>
<circle cx="797.0" cy="149.3" r="3" fill="rgb(69,148,199)"/>
<circle cx="709.2" cy="134.5" r="3" fill="rgb(64,144,197)"/>
<circle cx="774.6" cy="132.3" r="3" fill="rgb(64,144,197)"/>
<circle cx="766.7" cy="136.5" r="3" fill="rgb(64,144,197)"/>
<circle cx="765.4" cy="144.0" r="3" fill="rgb(64,144,197)"/>
<circle cx="797.9" cy="122.5" r="3" fill="rgb(64,144,197)"/>
<circle cx="841.5" cy="128.1" r="3" fill="rgb(64,144,197)"/>
<circle cx="858.3" cy="140.0" r="3" fill="rgb(64,144,197)"/>
<circle cx="715.1" cy="148.5" r="3" fill="rgb(64,144,197)"/>
<circle cx="740.2" cy="162.0" r="3" fill="rgb(64,144,197)"/>
<circle cx="825.2" cy="161.9" r="3" fill="rgb(64,144,197)"/>
<circle cx="780.2" cy="123.7" r="3" fill="rgb(53,133,191)"/>
<circle cx="792.0" cy="129.7" r="3" fill="rgb(53,133,191)"/>
<circle cx="803.0" cy="142.6" r="3" fill="rgb(53,133,191)"/>
<circle cx="794.9" cy="158.5" r="3" fill="rgb(53,133,191)"/>
<circle cx="806.6" cy="148.2" r="3" fill="rgb(53,133,191)"/>
<circle cx="783.7" cy="137.0" r="3" fill="rgb(46,126,188)"/>
<circle cx="811.4" cy="135.0" r="3" fill="rgb(46,126,188)"/>
<circle cx="814.2" cy="122.1" r="3" fill="rgb(46,126,188)"/>
<circle cx="828.0" cy="129.5" r="3" fill="rgb(46,126,188)"/>
<circle cx="830.1" cy="142.6" r="3" fill="rgb(46,126,188)"/>
<circle cx="787.0" cy="148.5" r="3" fill="rgb(46,126,188)"/>
<circle cx="730.9" cy="131.4" r="3" fill="rgb(36,116,182)"/>
<circle cx="736.3" cy="138.7" r="3" fill="rgb(36,116,182)"/>
<circle cx="771.6" cy="136.1" r="3" fill="rgb(36,116,182)"/>
<circle cx="839.8" cy="151.2" r="3" fill="rgb(36,116,182)"/>
<circle cx="763.2" cy="138.7" r="3" fill="rgb(22,99,170)"/>
<circle cx="817.9" cy="132.2" r="3" fill="rgb(22,99,170)"/>
<circle cx="815.4" cy="143.1" r="3" fill="rgb(22,99,170)"/>
<circle cx="722.7" cy="159.2" r="3" fill="rgb(22,99,170)"/>
<circle cx="763.2" cy="149.6" r="3" fill="rgb(22,99,170)"/>
<circle cx="743.0" cy="128.9" r="3" fill="rgb(18,94,166)"/>
<circle cx="769.7" cy="123.7" r="3" fill="rgb(18,94,166)"/>
<circle cx="779.2" cy="130.5" r="3" fill="rgb(18,94,166)"/>
<circle cx="789.5" cy="143.3" r="3" fill="rgb(18,94,166)"/>
<circle cx="813.9" cy="126.9" r="3" fill="rgb(18,94,166)"/>
<circle cx="806.7" cy="144.0" r="3" fill="rgb(18,94,166)"/>
<circle cx="841.9" cy="126.0" r="3" fill="rgb(18,94,166)"/>
<circle cx="818.9" cy="147.6" r="3" fill="rgb(18,94,166)"/>
<circle cx="789.5" cy="137.7" r="3" fill="rgb(14,88,162)"/>
<circle cx="798.8" cy="128.6" r="3" fill="rgb(8,80,154)"/>
<circle cx="804.6" cy="129.5" r="3" fill="rgb(8,80,154)"/>
<circle cx="837.1" cy="146.6" r="3" fill="rgb(8,80,154)"/>
<circle cx="786.2" cy="127.2" r="3" fill="rgb(8,72,143)"/>
<circle cx="813.3" cy="132.3" r="3" fill="rgb(8,72,143)"/>
<circle cx="817.3" cy="129.4" r="3" fill="rgb(8,67,136)"/>
<circle cx="777.8" cy="159.6" r="3" fill="rgb(8,67,136)"/>
<circle cx="822.3" cy="126.0" r="3" fill="rgb(8,64,131)"/>
<circle cx="854.8" cy="131.1" r="3" fill="rgb(8,64,131)"/>
<circle cx="832.2" cy="119.8" r="3" fill="rgb(8,59,123)"/>
<circle cx="767.9" cy="139.6" r="3" fill="rgb(8,55,118)"/>
<circle cx="782.5" cy="128.6" r="3" fill="rgb(8,53,115)"/>
<circle cx="800.0" cy="123.9" r="3" fill="rgb(8,53,115)"/>
<circle cx="804.0" cy="135.0" r="3" fill="rgb(8,53,115)"/>
<circle cx="820.3" cy="139.8" r="3" fill="rgb(8,53,115)"/>
<circle cx="778.1" cy="136.8" r="3" fill="rgb(8,52,113)"/>
<circle cx="801.6" cy="133.1" r="3" fill="rgb(8,50,110)"/>
<circle cx="801.6" cy="145.4" r="3" fill="rgb(8,50,110)"/>
</g>
<text class="t" text-anchor="middle" x="683.8" y="432.6">0.4</text>
<text class="t" text-anchor="middle" x="754.5" y="432.6">0.6</text>
<text class="t" text-anchor="middle" x="825.3" y="432.6">0.8</text>
<text class="a" text-anchor="middle" x="759.6" y="460">density_2</text>
</g>
<g>
<rect x="928.9" y="100" width="227.4" height="320" fill="#e5ecf6"/>
<line class="g" x1="946.4" x2="946.4" y1="100" y2="420"/>
<line class="g" x1="995.8" x2="995.8" y1="100" y2="420"/>
<line class="g" x1="1045.3" x2="1045.3" y1="100" y2="420"/>
<line class="g" x1="1094.8" x2="1094.8" y1="100" y2="420"/>
<line class="g" x1="1144.3" x2="1144.3" y1="100" y2="420"/>
<line class="z" x1="928.9" x2="1156.3" y1="400.2" y2="400.2"/>
<line class="g" x1="928.9" x2="1156.3" y1="344.3" y2="344.3"/>
<line class="g" x1="928.9" x2="1156.3" y1="288.3" y2="288.3"/>
<line class="g" x1="928.9" x2="1156.3" y1="232.4" y2="232.4"/>
<line class="g" x1="928.9" x2="1156.3" y1="176.4" y2="176.4"/>
<line class="g" x1="928.9" x2="1156.3" y1="120.5" y2="120.5"/>
<clipPath id="c3"><rect x="928.9" y="100" width="227.4" height="320"/></clipPath>
<g clip-path="url(#c3)">
<circle cx="990.5" cy="211.6" r="3" fill="rgb(240,247,253)"/>
<circle cx="1014.1" cy="333.9" r="3" fill="rgb(240,247,253)"/>
<circle cx="1029.1" cy="336.1" r="3" fill="rgb(240,247,253)"/>
<circle cx="991.4" cy="352.2" r="3" fill="rgb(240,247,253)"/>
<circle cx="1075.7" cy="380.1" r="3" fill="rgb(240,247,253)"/>
<circle cx="1010.4" cy="393.4" r="3" fill="rgb(240,247,253)"/>
<circle cx="1045.7" cy="399.3" r="3" fill="rgb(240,247,253)"/>
<circle cx="1053.7" cy="398.2" r="3" fill="rgb(240,247,253)"/>
<circle cx="1085.0" cy="399.3" r="3" fill="rgb(240,247,253)"/>
<circle cx="1019.5" cy="294.7" r="3" fill="rgb(236,244,252)"/>
<circle cx="997.5" cy="314.1" r="3" fill="rgb(236,244,252)"/>
<circle cx="1094.1" cy="349.7" r="3" fill="rgb(236,244,252)"/>
<circle cx="1058.0" cy="357.2" r="3" fill="rgb(236,244,252)"/>
<circle cx="1054.6" cy="373.6" r="3" fill="rgb(236,244,252)"/>
<circle cx="1021.4" cy="389.3" r="3" fill="rgb(236,244,252)"/>
<circle cx="1017.9" cy="400.3" r="3" fill="rgb(236,244,252)"/>
<circle cx="1104.4" cy="400.3" r="3" fill="rgb(236,244,252)"/>
<circle cx="1002.8" cy="371.2" r="3" fill="rgb(231,241,250)"/>
<circle cx="1008.7" cy="308.3" r="3" fill="rgb(227,238,249)"/>
<circle cx="1024.2" cy="321.4" r="3" fill="rgb(227,238,249)"/>
<circle cx="1011.7" cy="167.8" r="3" fill="rgb(214,230,244)"/>
<circle cx="1037.8" cy="169.5" r="3" fill="rgb(214,230,244)"/>
<circle cx="997.4" cy="214.4" r="3" fill="rgb(214,230,244)"/>
<circle cx="979.5" cy="163.0" r="3" fill="rgb(210,227,243)"/>
<circle cx="984.1" cy="181.8" r="3" fill="rgb(210,227,243)"/>
<circle cx="1021.8" cy="252.8" r="3" fill="rgb(210,227,243)"/>
<circle cx="1019.9" cy="198.2" r="3" fill="rgb(207,225,242)"/>
<circle cx="978.1" cy="205.3" r="3" fill="rgb(207,225,242)"/>
<circle cx="982.8" cy="240.6" r="3" fill="rgb(207,225,242)"/>
<circle cx="1003.9" cy="336.3" r="3" fill="rgb(207,225,242)"/>
<circle cx="987.1" cy="331.7" r="3" fill="rgb(195,218,238)"/>
<circle cx="1022.7" cy="210.5" r="3" fill="rgb(191,216,237)"/>
<circle cx="1001.1" cy="352.2" r="3" fill="rgb(191,216,237)"/>
<circle cx="1061.9" cy="160.8" r="3" fill="rgb(186,214,235)"/>
<circle cx="1110.2" cy="203.6" r="3" fill="rgb(186,214,235)"/>
<circle cx="1074.4" cy="230.3" r="3" fill="rgb(186,214,235)"/>
<circle cx="1030.7" cy="262.6" r="3" fill="rgb(186,214,235)"/>
<circle cx="990.3" cy="286.5" r="3" fill="rgb(186,214,235)"/>
<circle cx="943.8" cy="331.1" r="3" fill="rgb(186,214,235)"/>
<circle cx="978.7" cy="334.3" r="3" fill="rgb(186,214,235)"/>
<circle cx="1026.4" cy="360.2" r="3" fill="rgb(186,214,235)"/>
<circle cx="1041.7" cy="400.3" r="3" fill="rgb(186,214,235)"/>
<circle cx="1009.3" cy="352.4" r="3" fill="rgb(180,212,233)"/>
<circle cx="1070.8" cy="165.5" r="3" fill="rgb(174,209,230)"/>
<circle cx="1070.3" cy="347.9" r="3" fill="rgb(174,209,230)"/>
<circle cx="1110.4" cy="130.3" r="3" fill="rgb(168,206,229)"/>
<circle cx="969.6" cy="170.6" r="3" fill="rgb(168,206,229)"/>
<circle cx="1057.4" cy="215.9" r="3" fill="rgb(168,206,229)"/>
<circle cx="1000.5" cy="325.4" r="3" fill="rgb(160,203,226)"/>
<circle cx="1018.7" cy="161.1" r="3" fill="rgb(156,201,225)"/>
<circle cx="1107.3" cy="177.9" r="3" fill="rgb(156,201,225)"/>
<circle cx="1109.6" cy="197.8" r="3" fill="rgb(156,201,225)"/>
<circle cx="1022.4" cy="145.4" r="3" fill="rgb(149,197,223)"/>
<circle cx="1018.5" cy="153.8" r="3" fill="rgb(149,197,223)"/>
<circle cx="1035.3" cy="176.9" r="3" fill="rgb(149,197,223)"/>
<circle cx="1059.6" cy="154.3" r="3" fill="rgb(149,197,223)"/>
<circle cx="1086.2" cy="153.1" r="3" fill="rgb(149,197,223)"/>
<circle cx="1065.2" cy="177.1" r="3" fill="rgb(149,197,223)"/>
<circle cx="1074.7" cy="184.0" r="3" fill="rgb(149,197,223)"/>
<circle cx="1033.9" cy="163.6" r="3" fill="rgb(144,194,222)"/>
<circle cx="1117.4" cy="154.9" r="3" fill="rgb(144,194,222)"/>
<circle cx="1075.2" cy="146.6" r="3" fill="rgb(136,190,220)"/>
<circle cx="1009.8" cy="220.4" r="3" fill="rgb(136,190,220)"/>
<circle cx="1074.0" cy="248.4" r="3" fill="rgb(136,190,220)"/>
<circle cx="997.9" cy="155.0" r="3" fill="rgb(117,180,216)"/>
<circle cx="981.4" cy="141.2" r="3" fill="rgb(111,176,215)"/>
<circle cx="1019.2" cy="127.9" r="3" fill="rgb(111,176,215)"/>
<circle cx="1014.8" cy="136.7" r="3" fill="rgb(111,176,215)"/>
<circle cx="1037.4" cy="150.1" r="3" fill="rgb(111,176,215)"/>
<circle cx="1013.1" cy="164.1" r="3" fill="rgb(111,176,215)"/>
<circle cx="997.9" cy="217.1" r="3" fill="rgb(111,176,215)"/>
<circle cx="1018.2" cy="339.1" r="3" fill="rgb(106,173,214)"/>
<circle cx="1030.6" cy="139.3" r="3" fill="rgb(99,169,211)"/>
<circle cx="1087.1" cy="137.5" r="3" fill="rgb(99,169,211)"/>
<circle cx="1139.3" cy="129.1" r="3" fill="rgb(99,169,211)"/>
<circle cx="980.5" cy="165.7" r="3" fill="rgb(99,169,211)"/>
<circle cx="996.4" cy="172.7" r="3" fill="rgb(99,169,211)"/>
<circle cx="1061.6" cy="144.8" r="3" fill="rgb(99,169,211)"/>
<circle cx="1103.8" cy="238.3" r="3" fill="rgb(99,169,211)"/>
<circle cx="1065.9" cy="128.6" r="3" fill="rgb(93,164,208)"/>
<circle cx="978.0" cy="144.8" r="3" fill="rgb(93,164,208)"/>
<circle cx="1106.1" cy="189.1" r="3" fill="rgb(93,164,208)"/>
<circle cx="1084.6" cy="198.8" r="3" fill="rgb(93,164,208)"/>
<circle cx="1020.9" cy="140.5" r="3" fill="rgb(88,161,207)"/>
<circle cx="1111.8" cy="131.9" r="3" fill="rgb(88,161,207)"/>
<circle cx="1062.8" cy="149.6" r="3" fill="rgb(88,161,207)"/>
<circle cx="1036.4" cy="142.6" r="3" fill="rgb(76,153,202)"/>
<circle cx="1040.0" cy="127.2" r="3" fill="rgb(76,153,202)"/>
<circle cx="1075.7" cy="137.5" r="3" fill="rgb(69,148,199)"/>
<circle cx="1022.7" cy="167.6" r="3" fill="rgb(69,148,199)"/>
<circle cx="1046.1" cy="149.3" r="3" fill="rgb(69,148,199)"/>
<circle cx="980.0" cy="140.0" r="3" fill="rgb(64,144,197)"/>
<circle cx="1010.1" cy="141.9" r="3" fill="rgb(64,144,197)"/>
<circle cx="1094.8" cy="134.2" r="3" fill="rgb(64,144,197)"/>
<circle cx="1106.7" cy="123.0" r="3" fill="rgb(64,144,197)"/>
<circle cx="964.0" cy="148.5" r="3" fill="rgb(64,144,197)"/>
<circle cx="1010.6" cy="161.7" r="3" fill="rgb(64,144,197)"/>
<circle cx="1116.9" cy="162.2" r="3" fill="rgb(64,144,197)"/>
<circle cx="1119.4" cy="147.9" r="3" fill="rgb(60,140,195)"/>
<circle cx="1052.1" cy="136.5" r="3" fill="rgb(53,133,191)"/>
<circle cx="1077.3" cy="143.1" r="3" fill="rgb(53,133,191)"/>
<circle cx="1100.4" cy="122.5" r="3" fill="rgb(53,133,191)"/>
<circle cx="1107.1" cy="138.7" r="3" fill="rgb(53,133,191)"/>
<circle cx="1141.2" cy="158.5" r="3" fill="rgb(53,133,191)"/>
<circle cx="1109.5" cy="121.6" r="3" fill="rgb(46,126,188)"/>
<circle cx="1113.7" cy="132.3" r="3" fill="rgb(46,126,188)"/>
<circle cx="1105.3" cy="136.5" r="3" fill="rgb(46,126,188)"/>
<circle cx="1008.0" cy="143.8" r="3" fill="rgb(46,126,188)"/>
<circle cx="1137.0" cy="145.4" r="3" fill="rgb(46,126,188)"/>
<circle cx="1081.0" cy="148.4" r="3" fill="rgb(46,126,188)"/>
<circle cx="1098.3" cy="151.2" r="3" fill="rgb(46,126,188)"/>
<circle cx="1077.0" cy="128.6" r="3" fill="rgb(41,121,185)"/>
<circle cx="1067.8" cy="149.6" r="3" fill="rgb(29,107,177)"/>
<circle cx="1128.8" cy="159.2" r="3" fill="rgb(29,107,177)"/>
<circle cx="1079.9" cy="133.7" r="3" fill="rgb(22,99,170)"/>
<circle cx="1102.9" cy="138.4" r="3" fill="rgb(22,99,170)"/>
<circle cx="1081.2" cy="137.7" r="3" fill="rgb(18,94,166)"/>
<circle cx="1116.5" cy="126.0" r="3" fill="rgb(18,94,166)"/>
<circle cx="1101.5" cy="142.6" r="3" fill="rgb(18,94,166)"/>
<circle cx="1137.0" cy="129.7" r="3" fill="rgb(18,94,166)"/>
<circle cx="1138.8" cy="143.1" r="3" fill="rgb(18,94,166)"/>
<circle cx="1070.3" cy="147.6" r="3" fill="rgb(18,94,166)"/>
<circle cx="1071.2" cy="130.5" r="3" fill="rgb(14,88,162)"/>
<circle cx="1086.2" cy="127.2" r="3" fill="rgb(8,72,143)"/>
<circle cx="1101.5" cy="128.4" r="3" fill="rgb(8,72,143)"/>
<circle cx="1104.1" cy="132.5" r="3" fill="rgb(8,72,143)"/>
<circle cx="1038.0" cy="146.8" r="3" fill="rgb(8,72,143)"/>
<circle cx="1106.7" cy="126.3" r="3" fill="rgb(8,67,136)"/>
<circle cx="1125.1" cy="130.9" r="3" fill="rgb(8,67,136)"/>
<circle cx="1091.6" cy="129.3" r="3" fill="rgb(8,64,131)"/>
<circle cx="1079.0" cy="159.4" r="3" fill="rgb(8,64,131)"/>
<circle cx="1083.4" cy="119.8" r="3" fill="rgb(8,59,123)"/>
<circle cx="1069.1" cy="139.5" r="3" fill="rgb(8,59,123)"/>
<circle cx="1113.2" cy="123.8" r="3" fill="rgb(8,59,123)"/>
<circle cx="1117.2" cy="139.8" r="3" fill="rgb(8,59,123)"/>
<circle cx="1125.0" cy="136.8" r="3" fill="rgb(8,55,118)"/>
<circle cx="1131.6" cy="128.8" r="3" fill="rgb(8,55,118)"/>
<circle cx="1049.6" cy="135.0" r="3" fill="rgb(8,53,115)"/>
<circle cx="1087.6" cy="133.1" r="3" fill="rgb(8,50,110)"/>
<circle cx="1101.5" cy="145.4" r="3" fill="rgb(8,50,110)"/>
</g>
<text class="t" text-anchor="middle" x="946.4" y="432.6">0.02</text>
<text class="t" text-anchor="middle" x="995.8" y="432.6">0.04</text>
<text class="t" text-anchor="middle" x="1045.3" y="432.6">0.06</text>
<text class="t" text-anchor="middle" x="1094.8" y="432.6">0.08</text>
<text class="t" text-anchor="middle" x="1144.3" y="432.6">0.1</text>
<text class="a" text-anchor="middle" x="1042.6" y="460">gamma_0</text>
</g>
<g>
<rect x="1211.9" y="100" width="227.4" height="320" fill="#e5ecf6"/>
<line class="g" x1="1255.5" x2="1255.5" y1="100" y2="420"/>
<line class="g" x1="1312.4" x2="1312.4" y1="100" y2="420"/>
<line class="g" x1="1369.3" x2="1369.3" y1="100" y2="420"/>
<line class="g" x1="1426.0" x2="1426.0" y1="100" y2="420"/>
<line class="z" x1="1211.9" x2="1439.3" y1="400.2" y2="400.2"/>
<line class="g" x1="1211.9" x2="1439.3" y1="344.3" y2="344.3"/>
<line class="g" x1="1211.9" x2="1439.3" y1="288.3" y2="288.3"/>
<line class="g" x1="1211.9" x2="1439.3" y1="232.4" y2="232.4"/>
<line class="g" x1="1211.9" x2="1439.3" y1="176.4" y2="176.4"/>
<line class="g" x1="1211.9" x2="1439.3" y1="120.5" y2="120.5"/>
<clipPath id="c4"><rect x="1211.9" y="100" width="227.4" height="320"/></clipPath>
<g clip-path="url(#c4)">
<circle cx="1358.1" cy="211.6" r="3" fill="rgb(240,247,253)"/>
<circle cx="1227.0" cy="333.9" r="3" fill="rgb(240,247,253)"/>
<circle cx="1361.3" cy="336.1" r="3" fill="rgb(240,247,253)"/>
<circle cx="1287.6" cy="352.2" r="3" fill="rgb(240,247,253)"/>
<circle cx="1265.6" cy="380.1" r="3" fill="rgb(240,247,253)"/>
<circle cx="1258.9" cy="393.4" r="3" fill="rgb(240,247,253)"/>
<circle cx="1315.0" cy="399.2" r="3" fill="rgb(240,247,253)"/>
<circle cx="1319.1" cy="399.3" r="3" fill="rgb(240,247,253)"/>
<circle cx="1325.5" cy="398.2" r="3" fill="rgb(240,247,253)"/>
<circle cx="1377.1" cy="294.7" r="3" fill="rgb(236,244,252)"/>
<circle cx="1273.6" cy="314.1" r="3" fill="rgb(236,244,252)"/>
<circle cx="1419.3" cy="349.9" r="3" fill="rgb(236,244,252)"/>
<circle cx="1377.1" cy="357.2" r="3" fill="rgb(236,244,252)"/>
<circle cx="1299.5" cy="373.6" r="3" fill="rgb(236,244,252)"/>
<circle cx="1237.3" cy="389.3" r="3" fill="rgb(236,244,252)"/>
<circle cx="1313.5" cy="400.3" r="3" fill="rgb(236,244,252)"/>
<circle cx="1364.1" cy="400.3" r="3" fill="rgb(236,244,252)"/>
<circle cx="1353.8" cy="371.2" r="3" fill="rgb(231,241,250)"/>
<circle cx="1299.0" cy="308.3" r="3" fill="rgb(227,238,249)"/>
<circle cx="1324.0" cy="321.4" r="3" fill="rgb(227,238,249)"/>
<circle cx="1410.0" cy="164.4" r="3" fill="rgb(220,234,246)"/>
<circle cx="1355.4" cy="162.2" r="3" fill="rgb(214,230,244)"/>
<circle cx="1418.6" cy="167.6" r="3" fill="rgb(214,230,244)"/>
<circle cx="1363.1" cy="168.7" r="3" fill="rgb(214,230,244)"/>
<circle cx="1345.2" cy="214.8" r="3" fill="rgb(214,230,244)"/>
<circle cx="1295.3" cy="181.8" r="3" fill="rgb(210,227,243)"/>
<circle cx="1410.3" cy="252.8" r="3" fill="rgb(210,227,243)"/>
<circle cx="1386.8" cy="198.2" r="3" fill="rgb(207,225,242)"/>
<circle cx="1347.1" cy="205.3" r="3" fill="rgb(207,225,242)"/>
<circle cx="1396.3" cy="240.6" r="3" fill="rgb(207,225,242)"/>
<circle cx="1391.5" cy="336.7" r="3" fill="rgb(207,225,242)"/>
<circle cx="1366.2" cy="130.5" r="3" fill="rgb(195,218,238)"/>
<circle cx="1299.4" cy="331.7" r="3" fill="rgb(195,218,238)"/>
<circle cx="1389.6" cy="210.5" r="3" fill="rgb(191,216,237)"/>
<circle cx="1316.3" cy="352.2" r="3" fill="rgb(191,216,237)"/>
<circle cx="1420.9" cy="203.6" r="3" fill="rgb(186,214,235)"/>
<circle cx="1399.9" cy="230.3" r="3" fill="rgb(186,214,235)"/>
<circle cx="1366.1" cy="262.6" r="3" fill="rgb(186,214,235)"/>
<circle cx="1420.9" cy="286.5" r="3" fill="rgb(186,214,235)"/>
<circle cx="1377.9" cy="331.1" r="3" fill="rgb(186,214,235)"/>
<circle cx="1394.3" cy="334.3" r="3" fill="rgb(186,214,235)"/>
<circle cx="1375.6" cy="360.2" r="3" fill="rgb(186,214,235)"/>
<circle cx="1321.0" cy="400.3" r="3" fill="rgb(186,214,235)"/>
<circle cx="1389.2" cy="352.5" r="3" fill="rgb(180,212,233)"/>
<circle cx="1414.4" cy="160.3" r="3" fill="rgb(177,210,232)"/>
<circle cx="1348.3" cy="170.6" r="3" fill="rgb(174,209,230)"/>
<circle cx="1389.1" cy="347.9" r="3" fill="rgb(174,209,230)"/>
<circle cx="1376.2" cy="165.5" r="3" fill="rgb(168,206,229)"/>
<circle cx="1390.2" cy="215.9" r="3" fill="rgb(168,206,229)"/>
<circle cx="1323.3" cy="145.4" r="3" fill="rgb(160,203,226)"/>
<circle cx="1331.8" cy="162.7" r="3" fill="rgb(160,203,226)"/>
<circle cx="1379.5" cy="325.4" r="3" fill="rgb(160,203,226)"/>
<circle cx="1349.6" cy="154.3" r="3" fill="rgb(156,201,225)"/>
<circle cx="1357.8" cy="153.8" r="3" fill="rgb(156,201,225)"/>
<circle cx="1399.1" cy="176.9" r="3" fill="rgb(156,201,225)"/>
<circle cx="1303.5" cy="197.8" r="3" fill="rgb(156,201,225)"/>
<circle cx="1322.9" cy="145.4" r="3" fill="rgb(149,197,223)"/>
<circle cx="1370.2" cy="154.9" r="3" fill="rgb(149,197,223)"/>
<circle cx="1416.5" cy="153.4" r="3" fill="rgb(149,197,223)"/>
<circle cx="1413.7" cy="163.6" r="3" fill="rgb(149,197,223)"/>
<circle cx="1419.8" cy="176.9" r="3" fill="rgb(149,197,223)"/>
<circle cx="1337.6" cy="184.0" r="3" fill="rgb(149,197,223)"/>
<circle cx="1308.5" cy="177.6" r="3" fill="rgb(144,194,222)"/>
<circle cx="1303.6" cy="154.9" r="3" fill="rgb(140,192,221)"/>
<circle cx="1414.6" cy="150.1" r="3" fill="rgb(140,192,221)"/>
<circle cx="1321.6" cy="220.4" r="3" fill="rgb(136,190,220)"/>
<circle cx="1411.6" cy="248.4" r="3" fill="rgb(136,190,220)"/>
<circle cx="1350.8" cy="163.9" r="3" fill="rgb(127,185,218)"/>
<circle cx="1389.9" cy="146.1" r="3" fill="rgb(117,180,216)"/>
<circle cx="1375.5" cy="136.5" r="3" fill="rgb(111,176,215)"/>
<circle cx="1383.9" cy="140.7" r="3" fill="rgb(111,176,215)"/>
<circle cx="1400.7" cy="143.1" r="3" fill="rgb(111,176,215)"/>
<circle cx="1348.0" cy="145.4" r="3" fill="rgb(111,176,215)"/>
<circle cx="1361.3" cy="172.7" r="3" fill="rgb(111,176,215)"/>
<circle cx="1341.7" cy="217.1" r="3" fill="rgb(111,176,215)"/>
<circle cx="1403.4" cy="137.0" r="3" fill="rgb(106,173,214)"/>
<circle cx="1389.8" cy="339.1" r="3" fill="rgb(106,173,214)"/>
<circle cx="1296.0" cy="238.3" r="3" fill="rgb(99,169,211)"/>
<circle cx="1325.1" cy="139.8" r="3" fill="rgb(93,164,208)"/>
<circle cx="1377.8" cy="127.0" r="3" fill="rgb(93,164,208)"/>
<circle cx="1405.0" cy="140.7" r="3" fill="rgb(93,164,208)"/>
<circle cx="1274.6" cy="189.1" r="3" fill="rgb(93,164,208)"/>
<circle cx="1416.5" cy="198.8" r="3" fill="rgb(93,164,208)"/>
<circle cx="1354.7" cy="128.1" r="3" fill="rgb(88,161,207)"/>
<circle cx="1371.7" cy="149.6" r="3" fill="rgb(88,161,207)"/>
<circle cx="1404.8" cy="165.7" r="3" fill="rgb(88,161,207)"/>
<circle cx="1342.4" cy="142.6" r="3" fill="rgb(76,153,202)"/>
<circle cx="1339.6" cy="137.5" r="3" fill="rgb(69,148,199)"/>
<circle cx="1312.0" cy="167.6" r="3" fill="rgb(69,148,199)"/>
<circle cx="1356.4" cy="148.7" r="3" fill="rgb(69,148,199)"/>
<circle cx="1315.5" cy="134.5" r="3" fill="rgb(64,144,197)"/>
<circle cx="1336.3" cy="142.6" r="3" fill="rgb(64,144,197)"/>
<circle cx="1342.8" cy="133.7" r="3" fill="rgb(64,144,197)"/>
<circle cx="1391.3" cy="123.5" r="3" fill="rgb(64,144,197)"/>
<circle cx="1333.1" cy="144.5" r="3" fill="rgb(64,144,197)"/>
<circle cx="1415.1" cy="145.0" r="3" fill="rgb(64,144,197)"/>
<circle cx="1371.9" cy="161.7" r="3" fill="rgb(64,144,197)"/>
<circle cx="1424.0" cy="161.9" r="3" fill="rgb(64,144,197)"/>
<circle cx="1332.1" cy="129.5" r="3" fill="rgb(60,140,195)"/>
<circle cx="1331.7" cy="140.0" r="3" fill="rgb(53,133,191)"/>
<circle cx="1396.9" cy="132.8" r="3" fill="rgb(53,133,191)"/>
<circle cx="1416.8" cy="122.7" r="3" fill="rgb(53,133,191)"/>
<circle cx="1414.6" cy="132.8" r="3" fill="rgb(53,133,191)"/>
<circle cx="1408.6" cy="158.3" r="3" fill="rgb(53,133,191)"/>
<circle cx="1320.9" cy="138.7" r="3" fill="rgb(46,126,188)"/>
<circle cx="1375.0" cy="143.1" r="3" fill="rgb(46,126,188)"/>
<circle cx="1388.5" cy="128.4" r="3" fill="rgb(46,126,188)"/>
<circle cx="1393.7" cy="122.1" r="3" fill="rgb(46,126,188)"/>
<circle cx="1394.1" cy="129.7" r="3" fill="rgb(46,126,188)"/>
<circle cx="1402.5" cy="131.4" r="3" fill="rgb(46,126,188)"/>
<circle cx="1327.6" cy="148.2" r="3" fill="rgb(46,126,188)"/>
<circle cx="1410.4" cy="136.8" r="3" fill="rgb(41,121,185)"/>
<circle cx="1320.2" cy="138.7" r="3" fill="rgb(36,116,182)"/>
<circle cx="1328.6" cy="136.1" r="3" fill="rgb(36,116,182)"/>
<circle cx="1420.2" cy="149.4" r="3" fill="rgb(36,116,182)"/>
<circle cx="1358.0" cy="159.2" r="3" fill="rgb(36,116,182)"/>
<circle cx="1265.6" cy="151.2" r="3" fill="rgb(29,107,177)"/>
<circle cx="1315.8" cy="128.6" r="3" fill="rgb(22,99,170)"/>
<circle cx="1345.2" cy="139.6" r="3" fill="rgb(22,99,170)"/>
<circle cx="1368.7" cy="127.2" r="3" fill="rgb(22,99,170)"/>
<circle cx="1395.5" cy="143.1" r="3" fill="rgb(22,99,170)"/>
<circle cx="1343.3" cy="147.6" r="3" fill="rgb(22,99,170)"/>
<circle cx="1349.4" cy="134.5" r="3" fill="rgb(18,94,166)"/>
<circle cx="1350.0" cy="143.3" r="3" fill="rgb(18,94,166)"/>
<circle cx="1383.9" cy="125.6" r="3" fill="rgb(18,94,166)"/>
<circle cx="1401.9" cy="123.7" r="3" fill="rgb(18,94,166)"/>
<circle cx="1334.0" cy="146.8" r="3" fill="rgb(18,94,166)"/>
<circle cx="1386.7" cy="130.7" r="3" fill="rgb(14,88,162)"/>
<circle cx="1400.2" cy="137.7" r="3" fill="rgb(14,88,162)"/>
<circle cx="1417.4" cy="131.7" r="3" fill="rgb(14,88,162)"/>
<circle cx="1372.0" cy="129.1" r="3" fill="rgb(8,72,143)"/>
<circle cx="1396.5" cy="127.4" r="3" fill="rgb(8,72,143)"/>
<circle cx="1297.3" cy="129.8" r="3" fill="rgb(8,67,136)"/>
<circle cx="1356.6" cy="132.5" r="3" fill="rgb(8,67,136)"/>
<circle cx="1353.3" cy="159.2" r="3" fill="rgb(8,67,136)"/>
<circle cx="1405.8" cy="130.9" r="3" fill="rgb(8,64,131)"/>
<circle cx="1356.2" cy="119.8" r="3" fill="rgb(8,59,123)"/>
<circle cx="1381.8" cy="129.5" r="3" fill="rgb(8,59,123)"/>
<circle cx="1350.6" cy="128.6" r="3" fill="rgb(8,55,118)"/>
<circle cx="1361.8" cy="139.8" r="3" fill="rgb(8,55,118)"/>
<circle cx="1372.2" cy="123.7" r="3" fill="rgb(8,55,118)"/>
<circle cx="1371.7" cy="139.6" r="3" fill="rgb(8,55,118)"/>
<circle cx="1346.4" cy="136.8" r="3" fill="rgb(8,52,113)"/>
<circle cx="1418.4" cy="135.0" r="3" fill="rgb(8,52,113)"/>
<circle cx="1370.3" cy="133.1" r="3" fill="rgb(8,50,110)"/>
<circle cx="1365.7" cy="145.4" r="3" fill="rgb(8,50,110)"/>
</g>
<text class="t" text-anchor="middle" x="1255.5" y="432.6">0.04</text>
<text class="t" text-anchor="middle" x="1312.4" y="432.6">0.06</text>
<text class="t" text-anchor="middle" x="1369.3" y="432.6">0.08</text>
<text class="t" text-anchor="middle" x="1426.0" y="432.6">0.1</text>
<text class="a" text-anchor="middle" x="1325.6" y="460">gamma_1</text>
</g>
<g>
<rect x="1494.9" y="100" width="227.4" height="320" fill="#e5ecf6"/>
<line class="g" x1="1535.4" x2="1535.4" y1="100" y2="420"/>
<line class="g" x1="1589.9" x2="1589.9" y1="100" y2="420"/>
<line class="g" x1="1644.4" x2="1644.4" y1="100" y2="420"/>
<line class="g" x1="1698.8" x2="1698.8" y1="100" y2="420"/>
<line class="z" x1="1494.9" x2="1722.3" y1="400.2" y2="400.2"/>
<line class="g" x1="1494.9" x2="1722.3" y1="344.3" y2="344.3"/>
<line class="g" x1="1494.9" x2="1722.3" y1="288.3" y2="288.3"/>
<line class="g" x1="1494.9" x2="1722.3" y1="232.4" y2="232.4"/>
<line class="g" x1="1494.9" x2="1722.3" y1="176.4" y2="176.4"/>
<line class="g" x1="1494.9" x2="1722.3" y1="120.5" y2="120.5"/>
<clipPath id="c5"><rect x="1494.9" y="100" width="227.4" height="320"/></clipPath>
<g clip-path="url(#c5)">
<circle cx="1543.0" cy="211.3" r="3" fill="rgb(240,247,253)"/>
<circle cx="1538.9" cy="333.9" r="3" fill="rgb(240,247,253)"/>
<circle cx="1576.3" cy="336.1" r="3" fill="rgb(240,247,253)"/>
<circle cx="1604.5" cy="352.2" r="3" fill="rgb(240,247,253)"/>
<circle cx="1681.1" cy="380.1" r="3" fill="rgb(240,247,253)"/>
<circle cx="1594.8" cy="393.4" r="3" fill="rgb(240,247,253)"/>
<circle cx="1620.9" cy="399.3" r="3" fill="rgb(240,247,253)"/>
<circle cx="1657.1" cy="398.2" r="3" fill="rgb(240,247,253)"/>
<circle cx="1706.9" cy="399.3" r="3" fill="rgb(240,247,253)"/>
<circle cx="1609.5" cy="294.7" r="3" fill="rgb(236,244,252)"/>
<circle cx="1601.9" cy="314.1" r="3" fill="rgb(236,244,252)"/>
<circle cx="1590.3" cy="349.9" r="3" fill="rgb(236,244,252)"/>
<circle cx="1573.7" cy="357.2" r="3" fill="rgb(236,244,252)"/>
<circle cx="1583.6" cy="373.6" r="3" fill="rgb(236,244,252)"/>
<circle cx="1665.1" cy="389.3" r="3" fill="rgb(236,244,252)"/>
<circle cx="1560.3" cy="400.3" r="3" fill="rgb(236,244,252)"/>
<circle cx="1661.0" cy="400.3" r="3" fill="rgb(236,244,252)"/>
<circle cx="1622.6" cy="371.2" r="3" fill="rgb(231,241,250)"/>
<circle cx="1601.5" cy="308.3" r="3" fill="rgb(227,238,249)"/>
<circle cx="1580.4" cy="321.4" r="3" fill="rgb(227,238,249)"/>
<circle cx="1581.7" cy="163.8" r="3" fill="rgb(218,232,246)"/>
<circle cx="1546.4" cy="169.5" r="3" fill="rgb(214,230,244)"/>
<circle cx="1572.2" cy="167.6" r="3" fill="rgb(214,230,244)"/>
<circle cx="1617.6" cy="160.8" r="3" fill="rgb(214,230,244)"/>
<circle cx="1543.0" cy="214.8" r="3" fill="rgb(214,230,244)"/>
<circle cx="1694.9" cy="181.8" r="3" fill="rgb(210,227,243)"/>
<circle cx="1610.1" cy="252.8" r="3" fill="rgb(210,227,243)"/>
<circle cx="1572.4" cy="198.2" r="3" fill="rgb(207,225,242)"/>
<circle cx="1566.8" cy="205.3" r="3" fill="rgb(207,225,242)"/>
<circle cx="1600.4" cy="240.6" r="3" fill="rgb(207,225,242)"/>
<circle cx="1618.9" cy="336.3" r="3" fill="rgb(207,225,242)"/>
<circle cx="1607.7" cy="331.7" r="3" fill="rgb(195,218,238)"/>
<circle cx="1682.6" cy="210.5" r="3" fill="rgb(191,216,237)"/>
<circle cx="1583.1" cy="352.2" r="3" fill="rgb(191,216,237)"/>
<circle cx="1580.1" cy="203.6" r="3" fill="rgb(186,214,235)"/>
<circle cx="1598.9" cy="230.3" r="3" fill="rgb(186,214,235)"/>
<circle cx="1620.0" cy="262.6" r="3" fill="rgb(186,214,235)"/>
<circle cx="1553.4" cy="286.5" r="3" fill="rgb(186,214,235)"/>
<circle cx="1549.7" cy="331.1" r="3" fill="rgb(186,214,235)"/>
<circle cx="1635.8" cy="334.3" r="3" fill="rgb(186,214,235)"/>
<circle cx="1596.5" cy="360.2" r="3" fill="rgb(186,214,235)"/>
<circle cx="1658.8" cy="400.3" r="3" fill="rgb(186,214,235)"/>
<circle cx="1605.1" cy="352.4" r="3" fill="rgb(180,212,233)"/>
<circle cx="1603.6" cy="130.5" r="3" fill="rgb(177,210,232)"/>
<circle cx="1568.6" cy="165.5" r="3" fill="rgb(177,210,232)"/>
<circle cx="1577.4" cy="170.6" r="3" fill="rgb(177,210,232)"/>
<circle cx="1636.4" cy="347.9" r="3" fill="rgb(174,209,230)"/>
<circle cx="1565.9" cy="215.9" r="3" fill="rgb(168,206,229)"/>
<circle cx="1559.2" cy="325.4" r="3" fill="rgb(160,203,226)"/>
<circle cx="1614.3" cy="161.0" r="3" fill="rgb(156,201,225)"/>
<circle cx="1590.9" cy="197.8" r="3" fill="rgb(156,201,225)"/>
<circle cx="1557.6" cy="145.4" r="3" fill="rgb(149,197,223)"/>
<circle cx="1525.9" cy="154.8" r="3" fill="rgb(149,197,223)"/>
<circle cx="1531.5" cy="163.6" r="3" fill="rgb(149,197,223)"/>
<circle cx="1548.9" cy="177.6" r="3" fill="rgb(149,197,223)"/>
<circle cx="1597.5" cy="176.9" r="3" fill="rgb(149,197,223)"/>
<circle cx="1634.7" cy="154.3" r="3" fill="rgb(149,197,223)"/>
<circle cx="1657.9" cy="153.8" r="3" fill="rgb(149,197,223)"/>
<circle cx="1645.8" cy="162.9" r="3" fill="rgb(149,197,223)"/>
<circle cx="1632.2" cy="177.1" r="3" fill="rgb(149,197,223)"/>
<circle cx="1583.1" cy="184.0" r="3" fill="rgb(149,197,223)"/>
<circle cx="1537.8" cy="150.1" r="3" fill="rgb(144,194,222)"/>
<circle cx="1647.4" cy="153.1" r="3" fill="rgb(144,194,222)"/>
<circle cx="1609.7" cy="142.6" r="3" fill="rgb(140,192,221)"/>
<circle cx="1624.8" cy="220.4" r="3" fill="rgb(136,190,220)"/>
<circle cx="1635.8" cy="248.4" r="3" fill="rgb(136,190,220)"/>
<circle cx="1616.7" cy="154.9" r="3" fill="rgb(127,185,218)"/>
<circle cx="1655.3" cy="163.8" r="3" fill="rgb(127,185,218)"/>
<circle cx="1539.0" cy="136.5" r="3" fill="rgb(117,180,216)"/>
<circle cx="1566.9" cy="128.0" r="3" fill="rgb(117,180,216)"/>
<circle cx="1563.2" cy="139.3" r="3" fill="rgb(117,180,216)"/>
<circle cx="1621.0" cy="146.1" r="3" fill="rgb(111,176,215)"/>
<circle cx="1703.0" cy="217.1" r="3" fill="rgb(111,176,215)"/>
<circle cx="1646.8" cy="339.1" r="3" fill="rgb(106,173,214)"/>
<circle cx="1562.7" cy="172.7" r="3" fill="rgb(99,169,211)"/>
<circle cx="1683.6" cy="238.3" r="3" fill="rgb(99,169,211)"/>
<circle cx="1606.1" cy="142.1" r="3" fill="rgb(93,164,208)"/>
<circle cx="1592.4" cy="189.1" r="3" fill="rgb(93,164,208)"/>
<circle cx="1532.3" cy="198.8" r="3" fill="rgb(93,164,208)"/>
<circle cx="1509.8" cy="128.4" r="3" fill="rgb(88,161,207)"/>
<circle cx="1583.2" cy="140.5" r="3" fill="rgb(88,161,207)"/>
<circle cx="1595.4" cy="165.7" r="3" fill="rgb(88,161,207)"/>
<circle cx="1607.0" cy="167.6" r="3" fill="rgb(88,161,207)"/>
<circle cx="1678.7" cy="144.8" r="3" fill="rgb(88,161,207)"/>
<circle cx="1594.4" cy="137.3" r="3" fill="rgb(69,148,199)"/>
<circle cx="1625.7" cy="127.4" r="3" fill="rgb(69,148,199)"/>
<circle cx="1542.7" cy="144.8" r="3" fill="rgb(69,148,199)"/>
<circle cx="1571.9" cy="149.2" r="3" fill="rgb(69,148,199)"/>
<circle cx="1520.3" cy="134.5" r="3" fill="rgb(64,144,197)"/>
<circle cx="1591.6" cy="134.0" r="3" fill="rgb(64,144,197)"/>
<circle cx="1643.5" cy="137.7" r="3" fill="rgb(64,144,197)"/>
<circle cx="1597.2" cy="149.2" r="3" fill="rgb(64,144,197)"/>
<circle cx="1567.1" cy="161.7" r="3" fill="rgb(64,144,197)"/>
<circle cx="1531.5" cy="143.5" r="3" fill="rgb(60,140,195)"/>
<circle cx="1540.3" cy="162.2" r="3" fill="rgb(60,140,195)"/>
<circle cx="1584.6" cy="129.7" r="3" fill="rgb(53,133,191)"/>
<circle cx="1576.7" cy="140.5" r="3" fill="rgb(53,133,191)"/>
<circle cx="1592.1" cy="139.3" r="3" fill="rgb(53,133,191)"/>
<circle cx="1522.6" cy="147.9" r="3" fill="rgb(53,133,191)"/>
<circle cx="1550.1" cy="158.3" r="3" fill="rgb(53,133,191)"/>
<circle cx="1514.4" cy="131.2" r="3" fill="rgb(46,126,188)"/>
<circle cx="1568.8" cy="136.8" r="3" fill="rgb(46,126,188)"/>
<circle cx="1578.1" cy="136.1" r="3" fill="rgb(46,126,188)"/>
<circle cx="1598.6" cy="123.5" r="3" fill="rgb(46,126,188)"/>
<circle cx="1600.3" cy="129.5" r="3" fill="rgb(46,126,188)"/>
<circle cx="1552.5" cy="148.2" r="3" fill="rgb(46,126,188)"/>
<circle cx="1580.6" cy="151.0" r="3" fill="rgb(46,126,188)"/>
<circle cx="1580.0" cy="143.1" r="3" fill="rgb(36,116,182)"/>
<circle cx="1604.7" cy="122.4" r="3" fill="rgb(36,116,182)"/>
<circle cx="1553.6" cy="159.2" r="3" fill="rgb(36,116,182)"/>
<circle cx="1521.7" cy="128.6" r="3" fill="rgb(29,107,177)"/>
<circle cx="1546.9" cy="132.8" r="3" fill="rgb(29,107,177)"/>
<circle cx="1528.7" cy="129.5" r="3" fill="rgb(22,99,170)"/>
<circle cx="1526.4" cy="135.0" r="3" fill="rgb(22,99,170)"/>
<circle cx="1591.6" cy="143.1" r="3" fill="rgb(22,99,170)"/>
<circle cx="1599.6" cy="147.8" r="3" fill="rgb(22,99,170)"/>
<circle cx="1603.8" cy="145.0" r="3" fill="rgb(22,99,170)"/>
<circle cx="1521.2" cy="123.5" r="3" fill="rgb(18,94,166)"/>
<circle cx="1524.0" cy="130.5" r="3" fill="rgb(18,94,166)"/>
<circle cx="1560.9" cy="128.6" r="3" fill="rgb(18,94,166)"/>
<circle cx="1573.4" cy="126.0" r="3" fill="rgb(18,94,166)"/>
<circle cx="1595.4" cy="146.8" r="3" fill="rgb(18,94,166)"/>
<circle cx="1616.7" cy="149.4" r="3" fill="rgb(18,94,166)"/>
<circle cx="1587.7" cy="137.7" r="3" fill="rgb(14,88,162)"/>
<circle cx="1534.6" cy="127.4" r="3" fill="rgb(8,72,143)"/>
<circle cx="1540.3" cy="127.4" r="3" fill="rgb(8,72,143)"/>
<circle cx="1543.1" cy="131.4" r="3" fill="rgb(8,72,143)"/>
<circle cx="1554.1" cy="132.2" r="3" fill="rgb(8,72,143)"/>
<circle cx="1581.8" cy="129.7" r="3" fill="rgb(8,72,143)"/>
<circle cx="1545.5" cy="126.3" r="3" fill="rgb(8,64,131)"/>
<circle cx="1543.9" cy="159.2" r="3" fill="rgb(8,64,131)"/>
<circle cx="1542.0" cy="119.8" r="3" fill="rgb(8,59,123)"/>
<circle cx="1557.3" cy="128.6" r="3" fill="rgb(8,59,123)"/>
<circle cx="1572.1" cy="139.6" r="3" fill="rgb(8,59,123)"/>
<circle cx="1527.8" cy="123.8" r="3" fill="rgb(8,55,118)"/>
<circle cx="1526.6" cy="140.0" r="3" fill="rgb(8,55,118)"/>
<circle cx="1532.4" cy="136.8" r="3" fill="rgb(8,55,118)"/>
<circle cx="1551.7" cy="135.0" r="3" fill="rgb(8,52,113)"/>
<circle cx="1570.9" cy="133.0" r="3" fill="rgb(8,52,113)"/>
<circle cx="1587.0" cy="145.4" r="3" fill="rgb(8,50,110)"/>
</g>
<text class="t" text-anchor="middle" x="1535.4" y="432.6">0.02</text>
<text class="t" text-anchor="middle" x="1589.9" y="432.6">0.04</text>
<text class="t" text-anchor="middle" x="1644.4" y="432.6">0.06</text>
<text class="t" text-anchor="middle" x="1698.8" y="432.6">0.08</text>
<text class="a" text-anchor="middle" x="1608.6" y="460">gamma_2</text>
</g>
<g>
<rect x="1777.8" y="100" width="227.4" height="320" fill="#e5ecf6"/>
<line class="g" x1="1792.2" x2="1792.2" y1="100" y2="420"/>
<line class="g" x1="1903.0" x2="1903.0" y1="100" y2="420"/>
<line class="z" x1="1777.8" x2="2005.2" y1="400.2" y2="400.2"/>
<line class="g" x1="1777.8" x2="2005.2" y1="344.3" y2="344.3"/>
<line class="g" x1="1777.8" x2="2005.2" y1="288.3" y2="288.3"/>
<line class="g" x1="1777.8" x2="2005.2" y1="232.4" y2="232.4"/>
<line class="g" x1="1777.8" x2="2005.2" y1="176.4" y2="176.4"/>
<line class="g" x1="1777.8" x2="2005.2" y1="120.5" y2="120.5"/>
<clipPath id="c6"><rect x="1777.8" y="100" width="227.4" height="320"/></clipPath>
<g clip-path="url(#c6)">
<circle cx="1820.7" cy="211.6" r="3" fill="rgb(240,247,253)"/>
<circle cx="1856.3" cy="336.1" r="3" fill="rgb(240,247,253)"/>
<circle cx="1953.1" cy="333.9" r="3" fill="rgb(240,247,253)"/>
<circle cx="1885.6" cy="352.2" r="3" fill="rgb(240,247,253)"/>
<circle cx="1870.9" cy="380.1" r="3" fill="rgb(240,247,253)"/>
<circle cx="1889.7" cy="393.4" r="3" fill="rgb(240,247,253)"/>
<circle cx="1880.7" cy="399.3" r="3" fill="rgb(240,247,253)"/>
<circle cx="1941.5" cy="398.2" r="3" fill="rgb(240,247,253)"/>
<circle cx="1990.0" cy="399.3" r="3" fill="rgb(240,247,253)"/>
<circle cx="1851.6" cy="294.7" r="3" fill="rgb(236,244,252)"/>
<circle cx="1845.7" cy="314.1" r="3" fill="rgb(236,244,252)"/>
<circle cx="1880.2" cy="349.7" r="3" fill="rgb(236,244,252)"/>
<circle cx="1865.6" cy="357.2" r="3" fill="rgb(236,244,252)"/>
<circle cx="1881.1" cy="373.6" r="3" fill="rgb(236,244,252)"/>
<circle cx="1902.2" cy="389.3" r="3" fill="rgb(236,244,252)"/>
<circle cx="1931.1" cy="400.3" r="3" fill="rgb(236,244,252)"/>
<circle cx="1967.3" cy="400.3" r="3" fill="rgb(236,244,252)"/>
<circle cx="1884.3" cy="371.2" r="3" fill="rgb(231,241,250)"/>
<circle cx="1875.3" cy="308.3" r="3" fill="rgb(227,238,249)"/>
<circle cx="1850.0" cy="321.4" r="3" fill="rgb(227,238,249)"/>
<circle cx="1811.8" cy="170.0" r="3" fill="rgb(220,234,246)"/>
<circle cx="1859.8" cy="164.1" r="3" fill="rgb(218,232,246)"/>
<circle cx="1796.6" cy="167.8" r="3" fill="rgb(214,230,244)"/>
<circle cx="1849.4" cy="214.8" r="3" fill="rgb(214,230,244)"/>
<circle cx="1831.3" cy="181.8" r="3" fill="rgb(210,227,243)"/>
<circle cx="1814.5" cy="252.8" r="3" fill="rgb(210,227,243)"/>
<circle cx="1801.1" cy="160.6" r="3" fill="rgb(207,225,242)"/>
<circle cx="1815.8" cy="198.2" r="3" fill="rgb(207,225,242)"/>
<circle cx="1832.8" cy="205.3" r="3" fill="rgb(207,225,242)"/>
<circle cx="1859.3" cy="240.6" r="3" fill="rgb(207,225,242)"/>
<circle cx="1894.7" cy="336.3" r="3" fill="rgb(207,225,242)"/>
<circle cx="1868.4" cy="331.7" r="3" fill="rgb(195,218,238)"/>
<circle cx="1809.3" cy="210.5" r="3" fill="rgb(191,216,237)"/>
<circle cx="1899.0" cy="352.2" r="3" fill="rgb(191,216,237)"/>
<circle cx="1841.2" cy="203.6" r="3" fill="rgb(186,214,235)"/>
<circle cx="1841.2" cy="230.3" r="3" fill="rgb(186,214,235)"/>
<circle cx="1847.0" cy="262.6" r="3" fill="rgb(186,214,235)"/>
<circle cx="1854.3" cy="286.5" r="3" fill="rgb(186,214,235)"/>
<circle cx="1839.1" cy="331.1" r="3" fill="rgb(186,214,235)"/>
<circle cx="1854.1" cy="334.3" r="3" fill="rgb(186,214,235)"/>
<circle cx="1834.3" cy="360.2" r="3" fill="rgb(186,214,235)"/>
<circle cx="1913.2" cy="400.3" r="3" fill="rgb(186,214,235)"/>
<circle cx="1864.1" cy="352.4" r="3" fill="rgb(180,212,233)"/>
<circle cx="1828.3" cy="165.9" r="3" fill="rgb(177,210,232)"/>
<circle cx="1864.9" cy="347.9" r="3" fill="rgb(174,209,230)"/>
<circle cx="1806.2" cy="162.7" r="3" fill="rgb(168,206,229)"/>
<circle cx="1820.5" cy="170.6" r="3" fill="rgb(168,206,229)"/>
<circle cx="1828.5" cy="215.9" r="3" fill="rgb(168,206,229)"/>
<circle cx="1833.2" cy="325.4" r="3" fill="rgb(160,203,226)"/>
<circle cx="1816.0" cy="154.5" r="3" fill="rgb(156,201,225)"/>
<circle cx="1797.4" cy="160.8" r="3" fill="rgb(156,201,225)"/>
<circle cx="1803.4" cy="177.6" r="3" fill="rgb(156,201,225)"/>
<circle cx="1838.4" cy="176.7" r="3" fill="rgb(156,201,225)"/>
<circle cx="1828.3" cy="197.8" r="3" fill="rgb(156,201,225)"/>
<circle cx="1793.6" cy="145.1" r="3" fill="rgb(149,197,223)"/>
<circle cx="1820.0" cy="154.9" r="3" fill="rgb(149,197,223)"/>
<circle cx="1862.2" cy="153.1" r="3" fill="rgb(149,197,223)"/>
<circle cx="1831.7" cy="163.6" r="3" fill="rgb(149,197,223)"/>
<circle cx="1793.0" cy="176.9" r="3" fill="rgb(149,197,223)"/>
<circle cx="1849.2" cy="184.0" r="3" fill="rgb(149,197,223)"/>
<circle cx="1798.1" cy="153.8" r="3" fill="rgb(144,194,222)"/>
<circle cx="1825.8" cy="154.9" r="3" fill="rgb(144,194,222)"/>
<circle cx="1842.1" cy="163.8" r="3" fill="rgb(144,194,222)"/>
<circle cx="1831.9" cy="143.5" r="3" fill="rgb(140,192,221)"/>
<circle cx="1811.4" cy="128.1" r="3" fill="rgb(136,190,220)"/>
<circle cx="1901.4" cy="220.4" r="3" fill="rgb(136,190,220)"/>
<circle cx="1850.2" cy="248.4" r="3" fill="rgb(136,190,220)"/>
<circle cx="1864.0" cy="146.1" r="3" fill="rgb(117,180,216)"/>
<circle cx="1796.4" cy="149.9" r="3" fill="rgb(117,180,216)"/>
<circle cx="1797.8" cy="140.3" r="3" fill="rgb(111,176,215)"/>
<circle cx="1851.0" cy="129.1" r="3" fill="rgb(111,176,215)"/>
<circle cx="1874.8" cy="144.5" r="3" fill="rgb(111,176,215)"/>
<circle cx="1858.4" cy="217.1" r="3" fill="rgb(111,176,215)"/>
<circle cx="1819.6" cy="140.7" r="3" fill="rgb(106,173,214)"/>
<circle cx="1864.0" cy="339.1" r="3" fill="rgb(106,173,214)"/>
<circle cx="1806.0" cy="138.9" r="3" fill="rgb(99,169,211)"/>
<circle cx="1850.1" cy="172.5" r="3" fill="rgb(99,169,211)"/>
<circle cx="1914.7" cy="238.3" r="3" fill="rgb(99,169,211)"/>
<circle cx="1802.3" cy="128.4" r="3" fill="rgb(93,164,208)"/>
<circle cx="1806.2" cy="134.0" r="3" fill="rgb(93,164,208)"/>
<circle cx="1827.4" cy="189.1" r="3" fill="rgb(93,164,208)"/>
<circle cx="1852.0" cy="198.8" r="3" fill="rgb(93,164,208)"/>
<circle cx="1824.0" cy="165.7" r="3" fill="rgb(88,161,207)"/>
<circle cx="1809.7" cy="167.6" r="3" fill="rgb(88,161,207)"/>
<circle cx="1851.9" cy="142.1" r="3" fill="rgb(69,148,199)"/>
<circle cx="1809.5" cy="121.3" r="3" fill="rgb(64,144,197)"/>
<circle cx="1828.6" cy="133.3" r="3" fill="rgb(64,144,197)"/>
<circle cx="1837.0" cy="127.2" r="3" fill="rgb(64,144,197)"/>
<circle cx="1841.9" cy="134.2" r="3" fill="rgb(64,144,197)"/>
<circle cx="1852.9" cy="145.0" r="3" fill="rgb(64,144,197)"/>
<circle cx="1834.7" cy="149.3" r="3" fill="rgb(64,144,197)"/>
<circle cx="1857.1" cy="148.5" r="3" fill="rgb(64,144,197)"/>
<circle cx="1824.6" cy="161.9" r="3" fill="rgb(64,144,197)"/>
<circle cx="1820.2" cy="147.8" r="3" fill="rgb(60,140,195)"/>
<circle cx="1810.4" cy="142.6" r="3" fill="rgb(53,133,191)"/>
<circle cx="1827.7" cy="143.1" r="3" fill="rgb(53,133,191)"/>
<circle cx="1849.6" cy="138.4" r="3" fill="rgb(53,133,191)"/>
<circle cx="1874.8" cy="130.0" r="3" fill="rgb(53,133,191)"/>
<circle cx="1814.2" cy="161.9" r="3" fill="rgb(53,133,191)"/>
<circle cx="1794.9" cy="123.5" r="3" fill="rgb(46,126,188)"/>
<circle cx="1792.7" cy="136.8" r="3" fill="rgb(46,126,188)"/>
<circle cx="1805.3" cy="122.1" r="3" fill="rgb(46,126,188)"/>
<circle cx="1817.9" cy="128.1" r="3" fill="rgb(46,126,188)"/>
<circle cx="1817.4" cy="136.5" r="3" fill="rgb(46,126,188)"/>
<circle cx="1822.6" cy="132.5" r="3" fill="rgb(46,126,188)"/>
<circle cx="1816.0" cy="147.8" r="3" fill="rgb(46,126,188)"/>
<circle cx="1811.6" cy="151.2" r="3" fill="rgb(46,126,188)"/>
<circle cx="1869.6" cy="158.5" r="3" fill="rgb(46,126,188)"/>
<circle cx="1798.8" cy="143.1" r="3" fill="rgb(36,116,182)"/>
<circle cx="1807.2" cy="144.8" r="3" fill="rgb(29,107,177)"/>
<circle cx="1805.6" cy="123.9" r="3" fill="rgb(22,99,170)"/>
<circle cx="1831.4" cy="133.3" r="3" fill="rgb(22,99,170)"/>
<circle cx="1807.6" cy="147.3" r="3" fill="rgb(22,99,170)"/>
<circle cx="1826.1" cy="149.6" r="3" fill="rgb(22,99,170)"/>
<circle cx="1807.6" cy="158.9" r="3" fill="rgb(22,99,170)"/>
<circle cx="1798.5" cy="130.7" r="3" fill="rgb(18,94,166)"/>
<circle cx="1812.8" cy="137.7" r="3" fill="rgb(18,94,166)"/>
<circle cx="1845.4" cy="129.4" r="3" fill="rgb(18,94,166)"/>
<circle cx="1864.8" cy="126.0" r="3" fill="rgb(18,94,166)"/>
<circle cx="1870.9" cy="143.1" r="3" fill="rgb(18,94,166)"/>
<circle cx="1817.9" cy="131.9" r="3" fill="rgb(14,88,162)"/>
<circle cx="1792.7" cy="127.2" r="3" fill="rgb(8,72,143)"/>
<circle cx="1827.2" cy="128.6" r="3" fill="rgb(8,72,143)"/>
<circle cx="1875.7" cy="127.2" r="3" fill="rgb(8,72,143)"/>
<circle cx="1840.7" cy="146.8" r="3" fill="rgb(8,72,143)"/>
<circle cx="1869.9" cy="132.3" r="3" fill="rgb(8,67,136)"/>
<circle cx="1795.0" cy="129.7" r="3" fill="rgb(8,64,131)"/>
<circle cx="1857.7" cy="159.2" r="3" fill="rgb(8,64,131)"/>
<circle cx="1882.5" cy="119.8" r="3" fill="rgb(8,59,123)"/>
<circle cx="1835.4" cy="126.0" r="3" fill="rgb(8,59,123)"/>
<circle cx="1832.1" cy="129.1" r="3" fill="rgb(8,59,123)"/>
<circle cx="1831.4" cy="139.8" r="3" fill="rgb(8,59,123)"/>
<circle cx="1843.1" cy="139.8" r="3" fill="rgb(8,59,123)"/>
<circle cx="1834.7" cy="136.8" r="3" fill="rgb(8,55,118)"/>
<circle cx="1810.4" cy="123.8" r="3" fill="rgb(8,53,115)"/>
<circle cx="1847.7" cy="133.1" r="3" fill="rgb(8,52,113)"/>
<circle cx="1877.8" cy="135.0" r="3" fill="rgb(8,52,113)"/>
<circle cx="1824.4" cy="145.4" r="3" fill="rgb(8,50,110)"/>
</g>
<text class="t" text-anchor="middle" x="1792.2" y="432.6">0.5</text>
<text class="t" text-anchor="middle" x="1903.0" y="432.6">1</text>
<text class="a" text-anchor="middle" x="1891.5" y="460">l</text>
</g>
<g>
<rect x="2060.8" y="100" width="227.4" height="320" fill="#e5ecf6"/>
<line class="g" x1="2103.4" x2="2103.4" y1="100" y2="420"/>
<line class="g" x1="2163.5" x2="2163.5" y1="100" y2="420"/>
<line class="g" x1="2223.4" x2="2223.4" y1="100" y2="420"/>
<line class="g" x1="2283.5" x2="2283.5" y1="100" y2="420"/>
<line class="z" x1="2060.8" x2="2288.2" y1="400.2" y2="400.2"/>
<line class="g" x1="2060.8" x2="2288.2" y1="344.3" y2="344.3"/>
<line class="g" x1="2060.8" x2="2288.2" y1="288.3" y2="288.3"/>
<line class="g" x1="2060.8" x2="2288.2" y1="232.4" y2="232.4"/>
<line class="g" x1="2060.8" x2="2288.2" y1="176.4" y2="176.4"/>
<line class="g" x1="2060.8" x2="2288.2" y1="120.5" y2="120.5"/>
<clipPath id="c7"><rect x="2060.8" y="100" width="227.4" height="320"/></clipPath>
<g clip-path="url(#c7)">
<circle cx="2215.9" cy="211.6" r="3" fill="rgb(240,247,253)"/>
<circle cx="2272.8" cy="333.9" r="3" fill="rgb(240,247,253)"/>
<circle cx="2226.0" cy="336.1" r="3" fill="rgb(240,247,253)"/>
<circle cx="2236.5" cy="352.2" r="3" fill="rgb(240,247,253)"/>
<circle cx="2230.5" cy="380.1" r="3" fill="rgb(240,247,253)"/>
<circle cx="2195.2" cy="393.4" r="3" fill="rgb(240,247,253)"/>
<circle cx="2205.1" cy="398.2" r="3" fill="rgb(240,247,253)"/>
<circle cx="2218.2" cy="399.3" r="3" fill="rgb(240,247,253)"/>
<circle cx="2235.3" cy="399.3" r="3" fill="rgb(240,247,253)"/>
<circle cx="2221.7" cy="294.7" r="3" fill="rgb(236,244,252)"/>
<circle cx="2183.3" cy="314.1" r="3" fill="rgb(236,244,252)"/>
<circle cx="2191.1" cy="349.7" r="3" fill="rgb(236,244,252)"/>
<circle cx="2242.4" cy="357.2" r="3" fill="rgb(236,244,252)"/>
<circle cx="2250.6" cy="373.6" r="3" fill="rgb(236,244,252)"/>
<circle cx="2227.7" cy="389.3" r="3" fill="rgb(236,244,252)"/>
<circle cx="2229.0" cy="400.3" r="3" fill="rgb(236,244,252)"/>
<circle cx="2250.6" cy="400.3" r="3" fill="rgb(236,244,252)"/>
<circle cx="2240.4" cy="371.2" r="3" fill="rgb(231,241,250)"/>
<circle cx="2221.5" cy="308.3" r="3" fill="rgb(227,238,249)"/>
<circle cx="2209.0" cy="321.4" r="3" fill="rgb(227,238,249)"/>
<circle cx="2144.7" cy="165.0" r="3" fill="rgb(220,234,246)"/>
<circle cx="2164.8" cy="167.8" r="3" fill="rgb(214,230,244)"/>
<circle cx="2170.4" cy="169.5" r="3" fill="rgb(214,230,244)"/>
<circle cx="2191.7" cy="214.8" r="3" fill="rgb(214,230,244)"/>
<circle cx="2160.2" cy="181.8" r="3" fill="rgb(210,227,243)"/>
<circle cx="2228.4" cy="252.8" r="3" fill="rgb(210,227,243)"/>
<circle cx="2117.7" cy="198.2" r="3" fill="rgb(207,225,242)"/>
<circle cx="2183.5" cy="205.3" r="3" fill="rgb(207,225,242)"/>
<circle cx="2216.3" cy="240.6" r="3" fill="rgb(207,225,242)"/>
<circle cx="2201.0" cy="336.3" r="3" fill="rgb(207,225,242)"/>
<circle cx="2216.3" cy="331.7" r="3" fill="rgb(195,218,238)"/>
<circle cx="2223.8" cy="210.5" r="3" fill="rgb(191,216,237)"/>
<circle cx="2123.8" cy="352.2" r="3" fill="rgb(191,216,237)"/>
<circle cx="2161.5" cy="160.3" r="3" fill="rgb(186,214,235)"/>
<circle cx="2143.2" cy="203.6" r="3" fill="rgb(186,214,235)"/>
<circle cx="2137.8" cy="230.3" r="3" fill="rgb(186,214,235)"/>
<circle cx="2168.8" cy="262.6" r="3" fill="rgb(186,214,235)"/>
<circle cx="2144.0" cy="286.5" r="3" fill="rgb(186,214,235)"/>
<circle cx="2120.8" cy="331.1" r="3" fill="rgb(186,214,235)"/>
<circle cx="2245.4" cy="334.3" r="3" fill="rgb(186,214,235)"/>
<circle cx="2214.1" cy="360.2" r="3" fill="rgb(186,214,235)"/>
<circle cx="2189.1" cy="400.3" r="3" fill="rgb(186,214,235)"/>
<circle cx="2169.3" cy="352.4" r="3" fill="rgb(180,212,233)"/>
<circle cx="2145.2" cy="170.6" r="3" fill="rgb(174,209,230)"/>
<circle cx="2214.8" cy="347.9" r="3" fill="rgb(174,209,230)"/>
<circle cx="2144.5" cy="215.9" r="3" fill="rgb(168,206,229)"/>
<circle cx="2165.2" cy="161.0" r="3" fill="rgb(160,203,226)"/>
<circle cx="2161.7" cy="165.5" r="3" fill="rgb(160,203,226)"/>
<circle cx="2135.2" cy="325.4" r="3" fill="rgb(160,203,226)"/>
<circle cx="2166.6" cy="145.0" r="3" fill="rgb(156,201,225)"/>
<circle cx="2112.5" cy="154.1" r="3" fill="rgb(156,201,225)"/>
<circle cx="2267.4" cy="162.9" r="3" fill="rgb(156,201,225)"/>
<circle cx="2132.2" cy="197.8" r="3" fill="rgb(156,201,225)"/>
<circle cx="2164.3" cy="153.8" r="3" fill="rgb(149,197,223)"/>
<circle cx="2124.9" cy="153.1" r="3" fill="rgb(149,197,223)"/>
<circle cx="2122.1" cy="163.9" r="3" fill="rgb(149,197,223)"/>
<circle cx="2140.3" cy="177.1" r="3" fill="rgb(149,197,223)"/>
<circle cx="2202.7" cy="154.9" r="3" fill="rgb(149,197,223)"/>
<circle cx="2177.0" cy="176.9" r="3" fill="rgb(149,197,223)"/>
<circle cx="2111.9" cy="184.0" r="3" fill="rgb(149,197,223)"/>
<circle cx="2153.1" cy="154.9" r="3" fill="rgb(144,194,222)"/>
<circle cx="2111.6" cy="163.6" r="3" fill="rgb(144,194,222)"/>
<circle cx="2149.8" cy="142.6" r="3" fill="rgb(140,192,221)"/>
<circle cx="2126.4" cy="220.4" r="3" fill="rgb(136,190,220)"/>
<circle cx="2141.9" cy="248.4" r="3" fill="rgb(136,190,220)"/>
<circle cx="2095.8" cy="146.1" r="3" fill="rgb(117,180,216)"/>
<circle cx="2084.1" cy="141.2" r="3" fill="rgb(111,176,215)"/>
<circle cx="2121.4" cy="129.7" r="3" fill="rgb(111,176,215)"/>
<circle cx="2114.4" cy="145.4" r="3" fill="rgb(111,176,215)"/>
<circle cx="2208.3" cy="217.1" r="3" fill="rgb(111,176,215)"/>
<circle cx="2079.4" cy="126.7" r="3" fill="rgb(106,173,214)"/>
<circle cx="2111.6" cy="137.3" r="3" fill="rgb(106,173,214)"/>
<circle cx="2173.2" cy="339.1" r="3" fill="rgb(106,173,214)"/>
<circle cx="2159.4" cy="172.7" r="3" fill="rgb(99,169,211)"/>
<circle cx="2089.7" cy="238.3" r="3" fill="rgb(99,169,211)"/>
<circle cx="2146.1" cy="143.1" r="3" fill="rgb(93,164,208)"/>
<circle cx="2106.8" cy="165.7" r="3" fill="rgb(93,164,208)"/>
<circle cx="2169.0" cy="189.1" r="3" fill="rgb(93,164,208)"/>
<circle cx="2167.3" cy="198.8" r="3" fill="rgb(93,164,208)"/>
<circle cx="2117.7" cy="137.5" r="3" fill="rgb(88,161,207)"/>
<circle cx="2118.1" cy="149.3" r="3" fill="rgb(88,161,207)"/>
<circle cx="2100.0" cy="167.6" r="3" fill="rgb(88,161,207)"/>
<circle cx="2141.4" cy="149.6" r="3" fill="rgb(69,148,199)"/>
<circle cx="2102.6" cy="140.5" r="3" fill="rgb(64,144,197)"/>
<circle cx="2124.7" cy="130.5" r="3" fill="rgb(64,144,197)"/>
<circle cx="2122.3" cy="141.2" r="3" fill="rgb(64,144,197)"/>
<circle cx="2147.5" cy="134.2" r="3" fill="rgb(64,144,197)"/>
<circle cx="2158.2" cy="134.2" r="3" fill="rgb(64,144,197)"/>
<circle cx="2076.6" cy="148.5" r="3" fill="rgb(64,144,197)"/>
<circle cx="2141.0" cy="145.0" r="3" fill="rgb(64,144,197)"/>
<circle cx="2156.6" cy="147.9" r="3" fill="rgb(64,144,197)"/>
<circle cx="2207.0" cy="161.9" r="3" fill="rgb(64,144,197)"/>
<circle cx="2144.9" cy="161.9" r="3" fill="rgb(60,140,195)"/>
<circle cx="2088.3" cy="123.0" r="3" fill="rgb(53,133,191)"/>
<circle cx="2081.8" cy="128.8" r="3" fill="rgb(53,133,191)"/>
<circle cx="2087.8" cy="143.1" r="3" fill="rgb(53,133,191)"/>
<circle cx="2141.4" cy="143.5" r="3" fill="rgb(53,133,191)"/>
<circle cx="2116.6" cy="158.2" r="3" fill="rgb(53,133,191)"/>
<circle cx="2101.8" cy="122.3" r="3" fill="rgb(46,126,188)"/>
<circle cx="2103.5" cy="136.5" r="3" fill="rgb(46,126,188)"/>
<circle cx="2114.2" cy="133.0" r="3" fill="rgb(46,126,188)"/>
<circle cx="2149.4" cy="136.1" r="3" fill="rgb(46,126,188)"/>
<circle cx="2154.0" cy="138.9" r="3" fill="rgb(46,126,188)"/>
<circle cx="2162.0" cy="143.1" r="3" fill="rgb(46,126,188)"/>
<circle cx="2163.8" cy="148.2" r="3" fill="rgb(46,126,188)"/>
<circle cx="2169.0" cy="151.0" r="3" fill="rgb(36,116,182)"/>
<circle cx="2127.9" cy="143.5" r="3" fill="rgb(29,107,177)"/>
<circle cx="2100.0" cy="129.7" r="3" fill="rgb(22,99,170)"/>
<circle cx="2112.5" cy="129.1" r="3" fill="rgb(22,99,170)"/>
<circle cx="2126.5" cy="138.9" r="3" fill="rgb(22,99,170)"/>
<circle cx="2116.3" cy="143.3" r="3" fill="rgb(22,99,170)"/>
<circle cx="2152.6" cy="135.0" r="3" fill="rgb(22,99,170)"/>
<circle cx="2128.9" cy="149.6" r="3" fill="rgb(22,99,170)"/>
<circle cx="2138.4" cy="148.2" r="3" fill="rgb(22,99,170)"/>
<circle cx="2086.4" cy="159.2" r="3" fill="rgb(22,99,170)"/>
<circle cx="2079.9" cy="132.3" r="3" fill="rgb(18,94,166)"/>
<circle cx="2080.7" cy="137.7" r="3" fill="rgb(18,94,166)"/>
<circle cx="2103.7" cy="130.0" r="3" fill="rgb(18,94,166)"/>
<circle cx="2118.6" cy="123.3" r="3" fill="rgb(18,94,166)"/>
<circle cx="2124.4" cy="145.0" r="3" fill="rgb(18,94,166)"/>
<circle cx="2141.4" cy="132.3" r="3" fill="rgb(14,88,162)"/>
<circle cx="2096.5" cy="128.6" r="3" fill="rgb(8,72,143)"/>
<circle cx="2106.0" cy="127.2" r="3" fill="rgb(8,72,143)"/>
<circle cx="2123.5" cy="127.2" r="3" fill="rgb(8,72,143)"/>
<circle cx="2154.3" cy="130.3" r="3" fill="rgb(8,72,143)"/>
<circle cx="2109.6" cy="146.8" r="3" fill="rgb(8,72,143)"/>
<circle cx="2109.6" cy="126.0" r="3" fill="rgb(8,64,131)"/>
<circle cx="2169.7" cy="130.9" r="3" fill="rgb(8,64,131)"/>
<circle cx="2119.7" cy="159.4" r="3" fill="rgb(8,64,131)"/>
<circle cx="2095.5" cy="119.8" r="3" fill="rgb(8,59,123)"/>
<circle cx="2090.4" cy="123.9" r="3" fill="rgb(8,59,123)"/>
<circle cx="2144.0" cy="129.1" r="3" fill="rgb(8,59,123)"/>
<circle cx="2160.3" cy="139.6" r="3" fill="rgb(8,59,123)"/>
<circle cx="2138.0" cy="128.8" r="3" fill="rgb(8,55,118)"/>
<circle cx="2141.0" cy="139.8" r="3" fill="rgb(8,55,118)"/>
<circle cx="2123.3" cy="136.8" r="3" fill="rgb(8,53,115)"/>
<circle cx="2075.5" cy="133.1" r="3" fill="rgb(8,52,113)"/>
<circle cx="2096.7" cy="135.0" r="3" fill="rgb(8,52,113)"/>
<circle cx="2136.1" cy="145.4" r="3" fill="rgb(8,52,113)"/>
</g>
<text class="t" text-anchor="middle" x="2103.4" y="432.6">0.2</text>
<text class="t" text-anchor="middle" x="2163.5" y="432.6">0.4</text>
<text class="t" text-anchor="middle" x="2223.4" y="432.6">0.6</text>
<text class="t" text-anchor="middle" x="2283.5" y="432.6">0.8</text>
<text class="a" text-anchor="middle" x="2174.5" y="460">weight_0</text>
</g>
<g>
<rect x="2343.8" y="100" width="227.4" height="320" fill="#e5ecf6"/>
<line class="g" x1="2389.2" x2="2389.2" y1="100" y2="420"/>
<line class="g" x1="2451.9" x2="2451.9" y1="100" y2="420"/>
<line class="g" x1="2514.5" x2="2514.5" y1="100" y2="420"/>
<line class="z" x1="2343.8" x2="2571.2" y1="400.2" y2="400.2"/>
<line class="g" x1="2343.8" x2="2571.2" y1="344.3" y2="344.3"/>
<line class="g" x1="2343.8" x2="2571.2" y1="288.3" y2="288.3"/>
<line class="g" x1="2343.8" x2="2571.2" y1="232.4" y2="232.4"/>
<line class="g" x1="2343.8" x2="2571.2" y1="176.4" y2="176.4"/>
<line class="g" x1="2343.8" x2="2571.2" y1="120.5" y2="120.5"/>
<clipPath id="c8"><rect x="2343.8" y="100" width="227.4" height="320"/></clipPath>
<g clip-path="url(#c8)">
<circle cx="2461.2" cy="211.6" r="3" fill="rgb(240,247,253)"/>
<circle cx="2408.3" cy="333.9" r="3" fill="rgb(240,247,253)"/>
<circle cx="2457.5" cy="336.1" r="3" fill="rgb(240,247,253)"/>
<circle cx="2502.1" cy="352.2" r="3" fill="rgb(240,247,253)"/>
<circle cx="2492.0" cy="380.1" r="3" fill="rgb(240,247,253)"/>
<circle cx="2481.7" cy="393.4" r="3" fill="rgb(240,247,253)"/>
<circle cx="2464.6" cy="398.2" r="3" fill="rgb(240,247,253)"/>
<circle cx="2480.2" cy="399.3" r="3" fill="rgb(240,247,253)"/>
<circle cx="2509.3" cy="399.3" r="3" fill="rgb(240,247,253)"/>
<circle cx="2413.3" cy="294.7" r="3" fill="rgb(236,244,252)"/>
<circle cx="2422.4" cy="314.1" r="3" fill="rgb(236,244,252)"/>
<circle cx="2478.6" cy="349.7" r="3" fill="rgb(236,244,252)"/>
<circle cx="2466.8" cy="357.2" r="3" fill="rgb(236,244,252)"/>
<circle cx="2439.6" cy="373.6" r="3" fill="rgb(236,244,252)"/>
<circle cx="2472.2" cy="389.3" r="3" fill="rgb(236,244,252)"/>
<circle cx="2459.9" cy="400.3" r="3" fill="rgb(236,244,252)"/>
<circle cx="2484.7" cy="400.3" r="3" fill="rgb(236,244,252)"/>
<circle cx="2486.6" cy="371.2" r="3" fill="rgb(231,241,250)"/>
<circle cx="2422.6" cy="308.3" r="3" fill="rgb(227,238,249)"/>
<circle cx="2502.4" cy="321.4" r="3" fill="rgb(227,238,249)"/>
<circle cx="2401.5" cy="163.9" r="3" fill="rgb(214,230,244)"/>
<circle cx="2411.0" cy="167.6" r="3" fill="rgb(214,230,244)"/>
<circle cx="2372.4" cy="169.5" r="3" fill="rgb(214,230,244)"/>
<circle cx="2434.5" cy="214.8" r="3" fill="rgb(214,230,244)"/>
<circle cx="2463.1" cy="181.8" r="3" fill="rgb(210,227,243)"/>
<circle cx="2474.6" cy="252.8" r="3" fill="rgb(210,227,243)"/>
<circle cx="2443.5" cy="198.2" r="3" fill="rgb(207,225,242)"/>
<circle cx="2428.8" cy="205.3" r="3" fill="rgb(207,225,242)"/>
<circle cx="2423.9" cy="240.6" r="3" fill="rgb(207,225,242)"/>
<circle cx="2416.5" cy="336.3" r="3" fill="rgb(207,225,242)"/>
<circle cx="2428.0" cy="331.7" r="3" fill="rgb(195,218,238)"/>
<circle cx="2408.4" cy="210.5" r="3" fill="rgb(191,216,237)"/>
<circle cx="2438.6" cy="352.2" r="3" fill="rgb(191,216,237)"/>
<circle cx="2429.3" cy="161.9" r="3" fill="rgb(186,214,235)"/>
<circle cx="2461.1" cy="160.8" r="3" fill="rgb(186,214,235)"/>
<circle cx="2372.3" cy="203.6" r="3" fill="rgb(186,214,235)"/>
<circle cx="2441.3" cy="230.3" r="3" fill="rgb(186,214,235)"/>
<circle cx="2462.0" cy="262.6" r="3" fill="rgb(186,214,235)"/>
<circle cx="2452.8" cy="286.5" r="3" fill="rgb(186,214,235)"/>
<circle cx="2467.0" cy="331.1" r="3" fill="rgb(186,214,235)"/>
<circle cx="2469.2" cy="334.3" r="3" fill="rgb(186,214,235)"/>
<circle cx="2482.3" cy="360.2" r="3" fill="rgb(186,214,235)"/>
<circle cx="2555.9" cy="400.3" r="3" fill="rgb(186,214,235)"/>
<circle cx="2434.5" cy="352.4" r="3" fill="rgb(180,212,233)"/>
<circle cx="2395.5" cy="130.3" r="3" fill="rgb(177,210,232)"/>
<circle cx="2431.6" cy="347.9" r="3" fill="rgb(174,209,230)"/>
<circle cx="2452.2" cy="170.6" r="3" fill="rgb(168,206,229)"/>
<circle cx="2454.1" cy="215.9" r="3" fill="rgb(168,206,229)"/>
<circle cx="2493.1" cy="325.4" r="3" fill="rgb(160,203,226)"/>
<circle cx="2498.8" cy="163.0" r="3" fill="rgb(156,201,225)"/>
<circle cx="2466.8" cy="197.8" r="3" fill="rgb(156,201,225)"/>
<circle cx="2456.1" cy="145.4" r="3" fill="rgb(149,197,223)"/>
<circle cx="2410.9" cy="153.8" r="3" fill="rgb(149,197,223)"/>
<circle cx="2434.4" cy="154.3" r="3" fill="rgb(149,197,223)"/>
<circle cx="2437.0" cy="154.8" r="3" fill="rgb(149,197,223)"/>
<circle cx="2450.5" cy="163.6" r="3" fill="rgb(149,197,223)"/>
<circle cx="2425.8" cy="177.6" r="3" fill="rgb(149,197,223)"/>
<circle cx="2454.7" cy="176.9" r="3" fill="rgb(149,197,223)"/>
<circle cx="2496.8" cy="176.9" r="3" fill="rgb(149,197,223)"/>
<circle cx="2440.9" cy="184.0" r="3" fill="rgb(149,197,223)"/>
<circle cx="2414.6" cy="153.2" r="3" fill="rgb(144,194,222)"/>
<circle cx="2454.5" cy="163.8" r="3" fill="rgb(144,194,222)"/>
<circle cx="2478.3" cy="154.9" r="3" fill="rgb(144,194,222)"/>
<circle cx="2413.7" cy="142.1" r="3" fill="rgb(140,192,221)"/>
<circle cx="2466.2" cy="220.4" r="3" fill="rgb(136,190,220)"/>
<circle cx="2446.3" cy="248.4" r="3" fill="rgb(136,190,220)"/>
<circle cx="2411.8" cy="150.1" r="3" fill="rgb(117,180,216)"/>
<circle cx="2378.2" cy="140.3" r="3" fill="rgb(111,176,215)"/>
<circle cx="2448.2" cy="146.4" r="3" fill="rgb(111,176,215)"/>
<circle cx="2458.4" cy="217.1" r="3" fill="rgb(111,176,215)"/>
<circle cx="2445.7" cy="339.1" r="3" fill="rgb(106,173,214)"/>
<circle cx="2378.7" cy="172.7" r="3" fill="rgb(99,169,211)"/>
<circle cx="2446.7" cy="238.3" r="3" fill="rgb(99,169,211)"/>
<circle cx="2403.9" cy="137.0" r="3" fill="rgb(93,164,208)"/>
<circle cx="2401.1" cy="143.3" r="3" fill="rgb(93,164,208)"/>
<circle cx="2457.7" cy="165.7" r="3" fill="rgb(93,164,208)"/>
<circle cx="2450.6" cy="189.1" r="3" fill="rgb(93,164,208)"/>
<circle cx="2444.1" cy="198.8" r="3" fill="rgb(93,164,208)"/>
<circle cx="2490.9" cy="167.6" r="3" fill="rgb(88,161,207)"/>
<circle cx="2376.8" cy="142.1" r="3" fill="rgb(69,148,199)"/>
<circle cx="2412.9" cy="138.4" r="3" fill="rgb(69,148,199)"/>
<circle cx="2422.3" cy="140.3" r="3" fill="rgb(69,148,199)"/>
<circle cx="2387.6" cy="128.6" r="3" fill="rgb(64,144,197)"/>
<circle cx="2382.4" cy="133.3" r="3" fill="rgb(64,144,197)"/>
<circle cx="2413.4" cy="134.0" r="3" fill="rgb(64,144,197)"/>
<circle cx="2385.2" cy="144.8" r="3" fill="rgb(64,144,197)"/>
<circle cx="2393.1" cy="149.3" r="3" fill="rgb(64,144,197)"/>
<circle cx="2405.3" cy="149.2" r="3" fill="rgb(64,144,197)"/>
<circle cx="2421.3" cy="149.3" r="3" fill="rgb(64,144,197)"/>
<circle cx="2385.7" cy="161.9" r="3" fill="rgb(64,144,197)"/>
<circle cx="2494.2" cy="162.0" r="3" fill="rgb(64,144,197)"/>
<circle cx="2376.6" cy="133.7" r="3" fill="rgb(53,133,191)"/>
<circle cx="2393.6" cy="138.9" r="3" fill="rgb(53,133,191)"/>
<circle cx="2420.2" cy="143.5" r="3" fill="rgb(53,133,191)"/>
<circle cx="2367.8" cy="147.9" r="3" fill="rgb(53,133,191)"/>
<circle cx="2393.6" cy="158.3" r="3" fill="rgb(53,133,191)"/>
<circle cx="2372.8" cy="123.0" r="3" fill="rgb(46,126,188)"/>
<circle cx="2433.0" cy="143.1" r="3" fill="rgb(46,126,188)"/>
<circle cx="2380.1" cy="148.5" r="3" fill="rgb(46,126,188)"/>
<circle cx="2391.7" cy="132.6" r="3" fill="rgb(36,116,182)"/>
<circle cx="2442.8" cy="136.8" r="3" fill="rgb(36,116,182)"/>
<circle cx="2396.4" cy="159.2" r="3" fill="rgb(36,116,182)"/>
<circle cx="2486.7" cy="151.2" r="3" fill="rgb(36,116,182)"/>
<circle cx="2368.0" cy="123.5" r="3" fill="rgb(22,99,170)"/>
<circle cx="2376.8" cy="126.3" r="3" fill="rgb(22,99,170)"/>
<circle cx="2391.7" cy="138.4" r="3" fill="rgb(22,99,170)"/>
<circle cx="2469.5" cy="143.6" r="3" fill="rgb(22,99,170)"/>
<circle cx="2377.3" cy="121.9" r="3" fill="rgb(18,94,166)"/>
<circle cx="2385.2" cy="129.4" r="3" fill="rgb(18,94,166)"/>
<circle cx="2452.6" cy="143.1" r="3" fill="rgb(18,94,166)"/>
<circle cx="2388.0" cy="146.6" r="3" fill="rgb(18,94,166)"/>
<circle cx="2407.6" cy="147.3" r="3" fill="rgb(18,94,166)"/>
<circle cx="2469.9" cy="149.6" r="3" fill="rgb(18,94,166)"/>
<circle cx="2367.0" cy="127.2" r="3" fill="rgb(14,88,162)"/>
<circle cx="2371.2" cy="137.7" r="3" fill="rgb(14,88,162)"/>
<circle cx="2404.8" cy="130.5" r="3" fill="rgb(14,88,162)"/>
<circle cx="2381.5" cy="127.7" r="3" fill="rgb(8,72,143)"/>
<circle cx="2364.2" cy="130.7" r="3" fill="rgb(8,72,143)"/>
<circle cx="2358.2" cy="129.7" r="3" fill="rgb(8,67,136)"/>
<circle cx="2387.6" cy="139.6" r="3" fill="rgb(8,67,136)"/>
<circle cx="2360.0" cy="126.3" r="3" fill="rgb(8,64,131)"/>
<circle cx="2435.1" cy="132.3" r="3" fill="rgb(8,64,131)"/>
<circle cx="2428.8" cy="159.2" r="3" fill="rgb(8,64,131)"/>
<circle cx="2361.4" cy="119.8" r="3" fill="rgb(8,59,123)"/>
<circle cx="2372.8" cy="128.6" r="3" fill="rgb(8,55,118)"/>
<circle cx="2365.2" cy="135.0" r="3" fill="rgb(8,55,118)"/>
<circle cx="2361.4" cy="140.0" r="3" fill="rgb(8,55,118)"/>
<circle cx="2379.6" cy="123.8" r="3" fill="rgb(8,53,115)"/>
<circle cx="2398.3" cy="136.8" r="3" fill="rgb(8,52,113)"/>
<circle cx="2370.3" cy="133.1" r="3" fill="rgb(8,50,110)"/>
<circle cx="2375.9" cy="145.4" r="3" fill="rgb(8,50,110)"/>
</g>
<text class="t" text-anchor="middle" x="2389.2" y="432.6">0.2</text>
<text class="t" text-anchor="middle" x="2451.9" y="432.6">0.4</text>
<text class="t" text-anchor="middle" x="2514.5" y="432.6">0.6</text>
<text class="a" text-anchor="middle" x="2457.5" y="460">weight_1</text>
</g>
<g>
<rect x="2626.7" y="100" width="227.4" height="320" fill="#e5ecf6"/>
<line class="g" x1="2686.3" x2="2686.3" y1="100" y2="420"/>
<line class="g" x1="2747.5" x2="2747.5" y1="100" y2="420"/>
<line class="g" x1="2808.6" x2="2808.6" y1="100" y2="420"/>
<line class="z" x1="2626.7" x2="2854.1" y1="400.2" y2="400.2"/>
<line class="g" x1="2626.7" x2="2854.1" y1="344.3" y2="344.3"/>
<line class="g" x1="2626.7" x2="2854.1" y1="288.3" y2="288.3"/>
<line class="g" x1="2626.7" x2="2854.1" y1="232.4" y2="232.4"/>
<line class="g" x1="2626.7" x2="2854.1" y1="176.4" y2="176.4"/>
<line class="g" x1="2626.7" x2="2854.1" y1="120.5" y2="120.5"/>
<clipPath id="c9"><rect x="2626.7" y="100" width="227.4" height="320"/></clipPath>
<g clip-path="url(#c9)">
<circle cx="2714.9" cy="211.6" r="3" fill="rgb(240,247,253)"/>
<circle cx="2835.7" cy="333.9" r="3" fill="rgb(240,247,253)"/>
<circle cx="2713.6" cy="336.1" r="3" fill="rgb(240,247,253)"/>
<circle cx="2761.3" cy="352.2" r="3" fill="rgb(240,247,253)"/>
<circle cx="2689.3" cy="380.1" r="3" fill="rgb(240,247,253)"/>
<circle cx="2682.0" cy="393.4" r="3" fill="rgb(240,247,253)"/>
<circle cx="2667.1" cy="399.3" r="3" fill="rgb(240,247,253)"/>
<circle cx="2710.0" cy="398.2" r="3" fill="rgb(240,247,253)"/>
<circle cx="2766.7" cy="399.3" r="3" fill="rgb(240,247,253)"/>
<circle cx="2709.1" cy="294.7" r="3" fill="rgb(236,244,252)"/>
<circle cx="2684.8" cy="314.1" r="3" fill="rgb(236,244,252)"/>
<circle cx="2740.6" cy="349.9" r="3" fill="rgb(236,244,252)"/>
<circle cx="2694.5" cy="357.2" r="3" fill="rgb(236,244,252)"/>
<circle cx="2687.5" cy="373.6" r="3" fill="rgb(236,244,252)"/>
<circle cx="2719.9" cy="389.3" r="3" fill="rgb(236,244,252)"/>
<circle cx="2678.7" cy="400.3" r="3" fill="rgb(236,244,252)"/>
<circle cx="2683.9" cy="400.3" r="3" fill="rgb(236,244,252)"/>
<circle cx="2671.0" cy="371.2" r="3" fill="rgb(231,241,250)"/>
<circle cx="2761.2" cy="163.8" r="3" fill="rgb(227,238,249)"/>
<circle cx="2759.4" cy="308.3" r="3" fill="rgb(227,238,249)"/>
<circle cx="2749.9" cy="321.4" r="3" fill="rgb(227,238,249)"/>
<circle cx="2706.6" cy="167.6" r="3" fill="rgb(214,230,244)"/>
<circle cx="2723.4" cy="169.5" r="3" fill="rgb(214,230,244)"/>
<circle cx="2764.5" cy="165.9" r="3" fill="rgb(214,230,244)"/>
<circle cx="2766.1" cy="214.8" r="3" fill="rgb(214,230,244)"/>
<circle cx="2724.2" cy="181.8" r="3" fill="rgb(210,227,243)"/>
<circle cx="2709.6" cy="252.8" r="3" fill="rgb(210,227,243)"/>
<circle cx="2698.6" cy="198.2" r="3" fill="rgb(207,225,242)"/>
<circle cx="2745.6" cy="205.3" r="3" fill="rgb(207,225,242)"/>
<circle cx="2730.2" cy="240.6" r="3" fill="rgb(207,225,242)"/>
<circle cx="2747.5" cy="336.3" r="3" fill="rgb(207,225,242)"/>
<circle cx="2706.8" cy="331.7" r="3" fill="rgb(195,218,238)"/>
<circle cx="2716.7" cy="210.5" r="3" fill="rgb(191,216,237)"/>
<circle cx="2725.5" cy="352.2" r="3" fill="rgb(191,216,237)"/>
<circle cx="2747.1" cy="160.8" r="3" fill="rgb(186,214,235)"/>
<circle cx="2662.5" cy="203.6" r="3" fill="rgb(186,214,235)"/>
<circle cx="2714.3" cy="230.3" r="3" fill="rgb(186,214,235)"/>
<circle cx="2701.3" cy="262.6" r="3" fill="rgb(186,214,235)"/>
<circle cx="2713.9" cy="286.5" r="3" fill="rgb(186,214,235)"/>
<circle cx="2688.6" cy="331.1" r="3" fill="rgb(186,214,235)"/>
<circle cx="2736.3" cy="334.3" r="3" fill="rgb(186,214,235)"/>
<circle cx="2688.8" cy="360.2" r="3" fill="rgb(186,214,235)"/>
<circle cx="2727.0" cy="400.3" r="3" fill="rgb(186,214,235)"/>
<circle cx="2669.6" cy="352.4" r="3" fill="rgb(180,212,233)"/>
<circle cx="2779.9" cy="130.5" r="3" fill="rgb(177,210,232)"/>
<circle cx="2707.6" cy="347.9" r="3" fill="rgb(174,209,230)"/>
<circle cx="2728.5" cy="170.6" r="3" fill="rgb(168,206,229)"/>
<circle cx="2684.1" cy="215.9" r="3" fill="rgb(168,206,229)"/>
<circle cx="2682.6" cy="161.0" r="3" fill="rgb(160,203,226)"/>
<circle cx="2765.0" cy="162.7" r="3" fill="rgb(160,203,226)"/>
<circle cx="2677.8" cy="325.4" r="3" fill="rgb(160,203,226)"/>
<circle cx="2774.8" cy="154.1" r="3" fill="rgb(156,201,225)"/>
<circle cx="2799.3" cy="176.9" r="3" fill="rgb(156,201,225)"/>
<circle cx="2712.4" cy="197.8" r="3" fill="rgb(156,201,225)"/>
<circle cx="2738.4" cy="154.3" r="3" fill="rgb(149,197,223)"/>
<circle cx="2641.6" cy="177.8" r="3" fill="rgb(149,197,223)"/>
<circle cx="2798.1" cy="145.4" r="3" fill="rgb(149,197,223)"/>
<circle cx="2761.2" cy="153.1" r="3" fill="rgb(149,197,223)"/>
<circle cx="2780.4" cy="154.9" r="3" fill="rgb(149,197,223)"/>
<circle cx="2765.4" cy="163.8" r="3" fill="rgb(149,197,223)"/>
<circle cx="2780.2" cy="177.1" r="3" fill="rgb(149,197,223)"/>
<circle cx="2725.3" cy="184.0" r="3" fill="rgb(149,197,223)"/>
<circle cx="2731.8" cy="154.8" r="3" fill="rgb(144,194,222)"/>
<circle cx="2773.6" cy="150.1" r="3" fill="rgb(144,194,222)"/>
<circle cx="2796.9" cy="163.8" r="3" fill="rgb(144,194,222)"/>
<circle cx="2786.2" cy="142.1" r="3" fill="rgb(140,192,221)"/>
<circle cx="2801.3" cy="144.0" r="3" fill="rgb(140,192,221)"/>
<circle cx="2766.3" cy="220.4" r="3" fill="rgb(136,190,220)"/>
<circle cx="2725.1" cy="248.4" r="3" fill="rgb(136,190,220)"/>
<circle cx="2777.1" cy="139.3" r="3" fill="rgb(117,180,216)"/>
<circle cx="2767.3" cy="146.1" r="3" fill="rgb(117,180,216)"/>
<circle cx="2728.8" cy="127.9" r="3" fill="rgb(111,176,215)"/>
<circle cx="2830.2" cy="129.7" r="3" fill="rgb(111,176,215)"/>
<circle cx="2789.3" cy="217.1" r="3" fill="rgb(111,176,215)"/>
<circle cx="2690.4" cy="339.1" r="3" fill="rgb(106,173,214)"/>
<circle cx="2698.9" cy="140.7" r="3" fill="rgb(99,169,211)"/>
<circle cx="2738.1" cy="172.7" r="3" fill="rgb(99,169,211)"/>
<circle cx="2757.0" cy="238.3" r="3" fill="rgb(99,169,211)"/>
<circle cx="2730.2" cy="142.3" r="3" fill="rgb(93,164,208)"/>
<circle cx="2754.2" cy="140.7" r="3" fill="rgb(93,164,208)"/>
<circle cx="2727.9" cy="189.1" r="3" fill="rgb(93,164,208)"/>
<circle cx="2715.8" cy="198.8" r="3" fill="rgb(93,164,208)"/>
<circle cx="2735.6" cy="165.7" r="3" fill="rgb(88,161,207)"/>
<circle cx="2784.6" cy="150.1" r="3" fill="rgb(69,148,199)"/>
<circle cx="2749.8" cy="167.6" r="3" fill="rgb(69,148,199)"/>
<circle cx="2787.8" cy="123.5" r="3" fill="rgb(64,144,197)"/>
<circle cx="2804.1" cy="143.1" r="3" fill="rgb(64,144,197)"/>
<circle cx="2818.1" cy="133.1" r="3" fill="rgb(64,144,197)"/>
<circle cx="2819.1" cy="136.5" r="3" fill="rgb(64,144,197)"/>
<circle cx="2837.0" cy="128.4" r="3" fill="rgb(64,144,197)"/>
<circle cx="2839.1" cy="140.1" r="3" fill="rgb(64,144,197)"/>
<circle cx="2782.2" cy="144.5" r="3" fill="rgb(64,144,197)"/>
<circle cx="2793.4" cy="148.7" r="3" fill="rgb(64,144,197)"/>
<circle cx="2809.0" cy="148.4" r="3" fill="rgb(64,144,197)"/>
<circle cx="2824.6" cy="149.3" r="3" fill="rgb(64,144,197)"/>
<circle cx="2801.5" cy="162.0" r="3" fill="rgb(64,144,197)"/>
<circle cx="2817.4" cy="161.9" r="3" fill="rgb(64,144,197)"/>
<circle cx="2778.3" cy="122.7" r="3" fill="rgb(53,133,191)"/>
<circle cx="2808.8" cy="129.1" r="3" fill="rgb(53,133,191)"/>
<circle cx="2813.9" cy="138.9" r="3" fill="rgb(53,133,191)"/>
<circle cx="2822.8" cy="129.1" r="3" fill="rgb(53,133,191)"/>
<circle cx="2822.8" cy="158.3" r="3" fill="rgb(53,133,191)"/>
<circle cx="2769.0" cy="131.4" r="3" fill="rgb(46,126,188)"/>
<circle cx="2794.3" cy="129.1" r="3" fill="rgb(46,126,188)"/>
<circle cx="2809.7" cy="136.5" r="3" fill="rgb(46,126,188)"/>
<circle cx="2823.2" cy="122.1" r="3" fill="rgb(46,126,188)"/>
<circle cx="2822.8" cy="133.1" r="3" fill="rgb(46,126,188)"/>
<circle cx="2835.8" cy="151.2" r="3" fill="rgb(46,126,188)"/>
<circle cx="2761.7" cy="148.2" r="3" fill="rgb(36,116,182)"/>
<circle cx="2793.9" cy="143.3" r="3" fill="rgb(22,99,170)"/>
<circle cx="2828.2" cy="123.5" r="3" fill="rgb(22,99,170)"/>
<circle cx="2677.9" cy="159.2" r="3" fill="rgb(22,99,170)"/>
<circle cx="2780.1" cy="147.3" r="3" fill="rgb(22,99,170)"/>
<circle cx="2821.7" cy="149.4" r="3" fill="rgb(22,99,170)"/>
<circle cx="2802.3" cy="125.3" r="3" fill="rgb(18,94,166)"/>
<circle cx="2803.2" cy="137.9" r="3" fill="rgb(18,94,166)"/>
<circle cx="2815.3" cy="130.0" r="3" fill="rgb(18,94,166)"/>
<circle cx="2819.8" cy="143.3" r="3" fill="rgb(18,94,166)"/>
<circle cx="2737.3" cy="145.1" r="3" fill="rgb(18,94,166)"/>
<circle cx="2786.0" cy="146.6" r="3" fill="rgb(18,94,166)"/>
<circle cx="2826.2" cy="127.5" r="3" fill="rgb(14,88,162)"/>
<circle cx="2829.6" cy="134.7" r="3" fill="rgb(14,88,162)"/>
<circle cx="2753.0" cy="129.7" r="3" fill="rgb(8,72,143)"/>
<circle cx="2796.7" cy="127.2" r="3" fill="rgb(8,72,143)"/>
<circle cx="2810.7" cy="130.9" r="3" fill="rgb(8,72,143)"/>
<circle cx="2802.3" cy="129.4" r="3" fill="rgb(8,67,136)"/>
<circle cx="2765.9" cy="128.6" r="3" fill="rgb(8,64,131)"/>
<circle cx="2787.6" cy="159.2" r="3" fill="rgb(8,64,131)"/>
<circle cx="2797.3" cy="119.8" r="3" fill="rgb(8,59,123)"/>
<circle cx="2815.6" cy="126.3" r="3" fill="rgb(8,59,123)"/>
<circle cx="2789.9" cy="123.9" r="3" fill="rgb(8,55,118)"/>
<circle cx="2773.6" cy="139.6" r="3" fill="rgb(8,55,118)"/>
<circle cx="2807.4" cy="132.8" r="3" fill="rgb(8,55,118)"/>
<circle cx="2799.9" cy="135.0" r="3" fill="rgb(8,55,118)"/>
<circle cx="2825.4" cy="140.0" r="3" fill="rgb(8,55,118)"/>
<circle cx="2834.7" cy="128.6" r="3" fill="rgb(8,55,118)"/>
<circle cx="2822.0" cy="136.8" r="3" fill="rgb(8,53,115)"/>
<circle cx="2794.1" cy="145.4" r="3" fill="rgb(8,50,110)"/>
</g>
<text class="t" text-anchor="middle" x="2686.3" y="432.6">0.4</text>
<text class="t" text-anchor="middle" x="2747.5" y="432.6">0.6</text>
<text class="t" text-anchor="middle" x="2808.6" y="432.6">0.8</text>
<text class="a" text-anchor="middle" x="2740.4" y="460">weight_2</text>
</g>
<text class="t" text-anchor="end" x="79" y="404.4">0</text>
<text class="t" text-anchor="end" x="79" y="348.5">0.2</text>
<text class="t" text-anchor="end" x="79" y="292.5">0.4</text>
<text class="t" text-anchor="end" x="79" y="236.6">0.6</text>
<text class="t" text-anchor="end" x="79" y="180.6">0.8</text>
<text class="t" text-anchor="end" x="79" y="124.7">1</text>
<text class="a" text-anchor="middle" transform="translate(40.9,260.0) rotate(-90)">Objective Value</text>
<defs><linearGradient id="cb" x1="0" y1="1" x2="0" y2="0">
<stop offset="0" stop-color="rgb(247,251,255)"/>
<stop offset="0.125" stop-color="rgb(222,235,247)"/>
<stop offset="0.25" stop-color="rgb(198,219,239)"/>
<stop offset="0.375" stop-color="rgb(158,202,225)"/>
<stop offset="0.5" stop-color="rgb(107,174,214)"/>
<stop offset="0.625" stop-color="rgb(66,146,198)"/>
<stop offset="0.75" stop-color="rgb(33,113,181)"/>
<stop offset="0.875" stop-color="rgb(8,81,156)"/>
<stop offset="1" stop-color="rgb(8,48,107)"/>
</linearGradient></defs>
<rect x="2894" y="131" width="30" height="279" fill="url(#cb)" stroke="#444" stroke-width="1"/>
<text class="t" x="2927.3" y="414.2">0</text>
<text class="t" x="2927.3" y="376.8">20</text>
<text class="t" x="2927.3" y="339.3">40</text>
<text class="t" x="2927.3" y="301.9">60</text>
<text class="t" x="2927.3" y="264.4">80</text>
<text class="t" x="2927.3" y="227.0">100</text>
<text class="t" x="2927.3" y="189.5">120</text>
<text class="t" x="2927.3" y="152.1">140</text>
<text class="a" x="2893.6" y="122.8">Trial</text>
</svg></body></html>
